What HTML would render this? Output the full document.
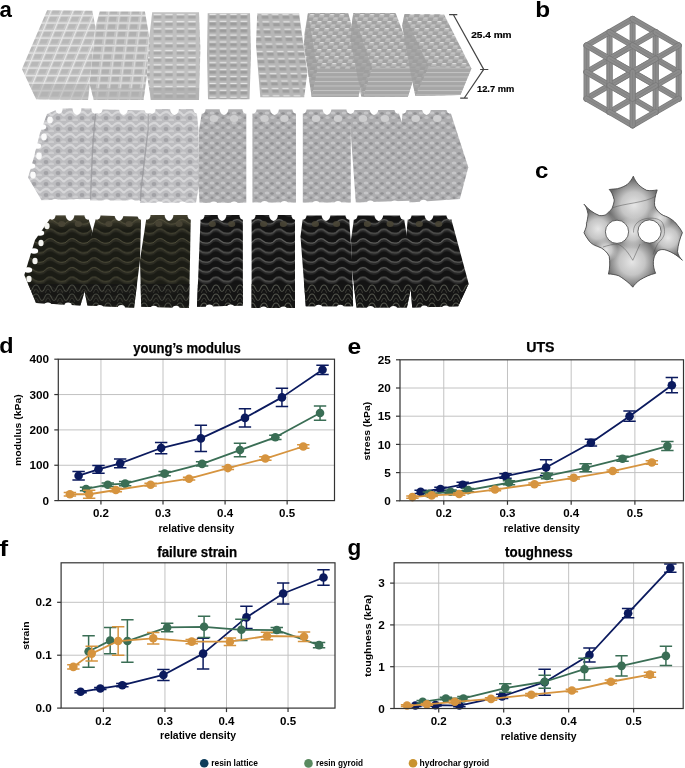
<!DOCTYPE html><html><head><meta charset="utf-8"><style>html,body{margin:0;padding:0;background:#fff;width:685px;height:768px;overflow:hidden}svg{display:block;font-family:"Liberation Sans",sans-serif;will-change:transform}</style></head><body><svg width="685" height="768" viewBox="0 0 685 768" font-family='"Liberation Sans", sans-serif'>
<rect width="685" height="768" fill="#fff"/>
<defs>
<pattern id="lat" width="10.4" height="6.9" patternUnits="userSpaceOnUse" x="208" y="13"><rect width="10.4" height="6.9" fill="#b6b6b6"/><rect x="1.4" y="2.1" width="6.6" height="3.4" fill="#9c9c9c"/><rect x="1.4" y="0.8" width="6.6" height="1.4" fill="#e6e6e6"/></pattern>
<pattern id="lat5" width="10.4" height="7.4" patternUnits="userSpaceOnUse" x="258" y="13" patternTransform="skewX(8)"><rect width="10.4" height="7.4" fill="#b6b6b6"/><rect x="1.4" y="2.2" width="6.6" height="3.6" fill="#9e9e9e"/><rect x="1.4" y="0.8" width="6.6" height="1.4" fill="#e2e2e2"/></pattern>
<pattern id="lat3" width="11.5" height="7.2" patternUnits="userSpaceOnUse" x="152" y="13"><rect width="11.5" height="7.2" fill="#c0c0c0"/><rect x="1.6" y="2.1" width="7.6" height="3.6" fill="#a8a8a8"/><rect x="1.6" y="0.8" width="7.6" height="1.4" fill="#e8e8e8"/></pattern>
<pattern id="lato" width="11" height="7.5" patternUnits="userSpaceOnUse" patternTransform="skewX(-22)"><rect width="11" height="7.5" fill="#c8c8c8"/><rect x="1.5" y="1.8" width="7.5" height="4.4" fill="#b8b8b8"/><rect x="0" y="0" width="11" height="1.3" fill="#e2e2e2"/><rect x="0" y="0" width="1.3" height="7.5" fill="#e8e8e8"/></pattern>
<pattern id="lato2" width="11" height="7.5" patternUnits="userSpaceOnUse" patternTransform="skewX(-8)"><rect width="11" height="7.5" fill="#c4c4c4"/><rect x="1.5" y="1.8" width="7.5" height="4.4" fill="#b0b0b0"/><rect x="0" y="0" width="11" height="1.3" fill="#e2e2e2"/><rect x="0" y="0" width="1.2" height="7.5" fill="#dadada"/></pattern>
<pattern id="chk" width="10" height="7" patternUnits="userSpaceOnUse" patternTransform="skewX(-20)"><rect width="10" height="7" fill="#b8b8b8"/><rect x="0" y="0" width="5" height="3.5" fill="#a2a2a2"/><rect x="5" y="3.5" width="5" height="3.5" fill="#a2a2a2"/><rect x="5.5" y="0" width="3.5" height="1.1" fill="#e0e0e0"/><rect x="0.5" y="3.5" width="3.5" height="1.0" fill="#d4d4d4"/></pattern>
<pattern id="band" width="8" height="4.5" patternUnits="userSpaceOnUse"><rect width="8" height="4.5" fill="#a6a6a6"/><rect y="0" width="8" height="1.0" fill="#c4c4c4"/></pattern>
<pattern id="gyw" width="12" height="11" patternUnits="userSpaceOnUse" x="30" y="110"><rect width="12" height="11" fill="#bdbdc0"/><path d="M0,2.5 C3,0 6,0 8,2.5 C9.5,4.5 10.5,4.5 12,2.5 L12,5 C10.5,7 9,7 7.5,5 C5.5,2.5 3,3 0,5 Z" fill="#d6d6d8"/><ellipse cx="4" cy="8" rx="2.4" ry="1.9" fill="#a2a2a6"/><path d="M6.5,10 C8,8 10,8 12,9.5 L12,11 L6.5,11 Z" fill="#cdcdcf"/></pattern>
<pattern id="gyg" width="11" height="10" patternUnits="userSpaceOnUse"><rect width="11" height="10" fill="#adadaf"/><ellipse cx="3" cy="3" rx="2.4" ry="1.6" fill="#c6c6c8"/><ellipse cx="8.5" cy="7.5" rx="2.2" ry="1.5" fill="#c4c4c6"/><ellipse cx="8" cy="3.5" rx="1.8" ry="1.3" fill="#8f8f92"/><ellipse cx="3" cy="7.8" rx="1.6" ry="1.2" fill="#919194"/></pattern>
<pattern id="gyd" width="21" height="9.6" patternUnits="userSpaceOnUse" y="217"><rect width="21" height="9.6" fill="#131313"/><path d="M0,6 C4,1.5 7,1.5 10.5,4.5 C14,7.5 17,7.5 21,6 L21,8.6 C17,10 14,10 10.5,7.2 C7,4.4 4,4.4 0,8.6 Z" fill="#2a2a2a"/><path d="M0,6 C4,1.5 7,1.5 10.5,4.5 C14,7.5 17,7.5 21,6" stroke="#5e5e5c" stroke-width="1.2" fill="none"/></pattern>
<pattern id="gydo" width="22" height="9.6" patternUnits="userSpaceOnUse" y="217"><rect width="22" height="9.6" fill="#1b1c15"/><path d="M0,6 C4,1.5 7,1.5 11,4.5 C15,7.5 18,7.5 22,6 L22,8.6 C18,10 15,10 11,7.2 C7,4.4 4,4.4 0,8.6 Z" fill="#2b2b22"/><path d="M0,6 C4,1.5 7,1.5 11,4.5 C15,7.5 18,7.5 22,6" stroke="#56543f" stroke-width="0.9" fill="none"/></pattern>
<linearGradient id="olv" x1="0" x2="0" y1="0" y2="1"><stop offset="0" stop-color="#6a6448" stop-opacity="0.9"/><stop offset="1" stop-color="#6a6448" stop-opacity="0"/></linearGradient>
<pattern id="gyds" width="12" height="9" patternUnits="userSpaceOnUse" x="0" y="284"><rect width="12" height="9" fill="#141414"/><path d="M0,1 C4,1 3,7.5 6,7.5 C9,7.5 8,1 12,1" stroke="#50524a" stroke-width="1.1" fill="none"/><path d="M0,5 C2,5 2,9 3,9 M9,9 C10,9 10,5 12,5" stroke="#3c3d37" stroke-width="0.9" fill="none"/></pattern>
<linearGradient id="shadeL" x1="0" x2="1" y1="0" y2="0"><stop offset="0" stop-color="#000" stop-opacity="0.12"/><stop offset="0.25" stop-color="#000" stop-opacity="0"/></linearGradient>
</defs>
<polygon points="47.1,10.3 92.4,10.8 95.3,26.9 92.0,60.0 89.5,83.8 88.0,99.9 36.2,99.2 21.9,68.9" fill="url(#lato)"/>
<polygon points="99.7,11.4 144.9,11.4 149.3,37.1 147.0,75.0 143.5,99.9 93.8,99.9 89.5,83.8 92.0,60.0 95.3,26.9" fill="url(#lato2)"/>
<polygon points="152.2,12.3 199.0,12.3 200.4,48.8 199.0,99.9 150.8,99.9 147.0,75.0 149.3,37.1" fill="url(#lat3)"/>
<polygon points="207.7,13.2 250.0,13.2 251.0,55.0 249.5,99.2 208.0,99.2 207.0,55.0" fill="url(#lat)"/>
<polygon points="257.2,13.6 299.1,13.6 307.3,72.4 304.2,97.3 260.3,97.3 256.0,45.0" fill="url(#lat5)"/>
<polygon points="308.0,13.1 348.2,13.1 364.2,69.3 358.4,97.0 311.7,97.0 303.6,44.5" fill="url(#chk)"/>
<polygon points="353.3,13.1 395.6,13.1 416.6,68.3 407.9,96.8 361.3,96.8 358.0,80.0 350.5,40.0 351.8,24.0" fill="url(#chk)"/>
<polygon points="404.5,14.0 444.0,14.2 471.4,68.6 460.4,94.9 415.4,95.9 410.0,70.0 402.2,25.4" fill="url(#chk)"/>
<polygon points="29,84 90,84 88,99.9 36.2,99.2" fill="#b0b0b0" opacity="0.55"/>
<polygon points="91,88 145,88 143.5,99.9 93.8,99.9" fill="#b0b0b0" opacity="0.55"/>
<polygon points="150,88 199,88 199,99.9 150.8,99.9" fill="#aaaaaa" opacity="0.55"/>
<polygon points="317.4,68.4 364.2,69.3 358.4,97 311.7,97" fill="url(#band)"/>
<polygon points="372,67.5 416.6,68.3 407.9,96.8 363.3,96.8" fill="url(#band)"/>
<polygon points="428.6,66.7 471.4,68.6 460.4,94.9 415.4,95.9" fill="url(#band)"/>
<polygon points="308,13.1 317.4,68.4 311.7,97 307,60.6 304.3,34.3" fill="#9c9c9c" opacity="0.7"/>
<polygon points="353.3,13.1 372,67.5 363.3,96.8 358,80 350.5,40 351.8,24" fill="#9c9c9c" opacity="0.7"/>
<polygon points="404.5,14 428.6,66.7 415.4,95.9 410,70 402.2,25.4" fill="#9c9c9c" opacity="0.7"/>
<polygon points="59.4,108.6 94.5,108.6 95.0,130.0 92.0,170.0 90.2,199.0 41.5,200.3 28.0,177.4 34.0,157.0 40.0,133.0 47.0,114.0" fill="url(#gyw)"/>
<polygon points="95.0,109.3 148.1,110.5 147.0,150.0 145.8,200.4 90.0,200.4 92.0,150.0" fill="url(#gyw)"/>
<polygon points="149.5,108.9 196.5,108.9 198.5,130.0 199.0,185.0 196.0,202.8 140.0,202.8 141.0,190.0 148.0,130.0" fill="url(#gyw)"/>
<polygon points="202.5,109.3 246.3,109.3 246.3,202.8 199.5,202.8 198.5,185.0 199.0,130.0" fill="url(#gyg)"/>
<polygon points="252.4,109.4 296.0,109.4 296.0,202.4 252.4,202.4" fill="url(#gyg)"/>
<polygon points="302.8,109.4 350.8,109.4 350.8,202.4 302.8,202.4" fill="url(#gyg)"/>
<polygon points="349.1,110.0 397.8,110.0 402.8,125.0 409.5,200.7 355.8,202.4" fill="url(#gyg)"/>
<polygon points="402.8,110.0 449.8,110.0 468.3,167.2 459.9,199.0 409.5,202.4 401.1,130.0" fill="url(#gyg)"/>
<path d="M95.5,112 L92.5,150 L90.5,199 M148.5,112 L148,130 L141,190 L140.5,201" stroke="#9a9a9e" stroke-width="1.4" fill="none" opacity="0.8"/>
<ellipse cx="213.9" cy="118.5" rx="4.2" ry="3.6" fill="#d2d2d4" opacity="0.85"/>
<ellipse cx="234.1" cy="118.5" rx="4.2" ry="3.6" fill="#d2d2d4" opacity="0.85"/>
<ellipse cx="264.6" cy="118.5" rx="4.2" ry="3.6" fill="#d2d2d4" opacity="0.85"/>
<ellipse cx="284.4" cy="118.5" rx="4.2" ry="3.6" fill="#d2d2d4" opacity="0.85"/>
<ellipse cx="316.0" cy="118.5" rx="4.2" ry="3.6" fill="#d2d2d4" opacity="0.85"/>
<ellipse cx="338.0" cy="118.5" rx="4.2" ry="3.6" fill="#d2d2d4" opacity="0.85"/>
<ellipse cx="363.0" cy="118.5" rx="4.2" ry="3.6" fill="#d2d2d4" opacity="0.85"/>
<ellipse cx="385.0" cy="118.5" rx="4.2" ry="3.6" fill="#d2d2d4" opacity="0.85"/>
<ellipse cx="415.7" cy="118.5" rx="4.2" ry="3.6" fill="#d2d2d4" opacity="0.85"/>
<ellipse cx="437.3" cy="118.5" rx="4.2" ry="3.6" fill="#d2d2d4" opacity="0.85"/>
<ellipse cx="59.0" cy="108.7" rx="3.6" ry="5.0" fill="#fff"/>
<ellipse cx="77.0" cy="108.7" rx="4.4" ry="6.2" fill="#fff"/>
<ellipse cx="95.0" cy="108.7" rx="3.6" ry="5.0" fill="#fff"/>
<ellipse cx="99.0" cy="108.7" rx="3.6" ry="5.0" fill="#fff"/>
<ellipse cx="123.5" cy="108.7" rx="4.4" ry="6.2" fill="#fff"/>
<ellipse cx="148.0" cy="108.7" rx="3.6" ry="5.0" fill="#fff"/>
<ellipse cx="152.0" cy="108.7" rx="3.6" ry="5.0" fill="#fff"/>
<ellipse cx="174.5" cy="108.7" rx="4.4" ry="6.2" fill="#fff"/>
<ellipse cx="197.0" cy="108.7" rx="3.6" ry="5.0" fill="#fff"/>
<ellipse cx="202.0" cy="108.7" rx="3.6" ry="5.0" fill="#fff"/>
<ellipse cx="224.0" cy="108.7" rx="4.4" ry="6.2" fill="#fff"/>
<ellipse cx="246.0" cy="108.7" rx="3.6" ry="5.0" fill="#fff"/>
<ellipse cx="253.0" cy="108.7" rx="3.6" ry="5.0" fill="#fff"/>
<ellipse cx="274.5" cy="108.7" rx="4.4" ry="6.2" fill="#fff"/>
<ellipse cx="296.0" cy="108.7" rx="3.6" ry="5.0" fill="#fff"/>
<ellipse cx="303.0" cy="108.7" rx="3.6" ry="5.0" fill="#fff"/>
<ellipse cx="327.0" cy="108.7" rx="4.4" ry="6.2" fill="#fff"/>
<ellipse cx="351.0" cy="108.7" rx="3.6" ry="5.0" fill="#fff"/>
<ellipse cx="350.0" cy="108.7" rx="3.6" ry="5.0" fill="#fff"/>
<ellipse cx="374.0" cy="108.7" rx="4.4" ry="6.2" fill="#fff"/>
<ellipse cx="398.0" cy="108.7" rx="3.6" ry="5.0" fill="#fff"/>
<ellipse cx="403.0" cy="108.7" rx="3.6" ry="5.0" fill="#fff"/>
<ellipse cx="426.5" cy="108.7" rx="4.4" ry="6.2" fill="#fff"/>
<ellipse cx="450.0" cy="108.7" rx="3.6" ry="5.0" fill="#fff"/>
<ellipse cx="55.0" cy="201.6" rx="3.6" ry="2.6" fill="#fff"/>
<ellipse cx="77.0" cy="201.6" rx="3.6" ry="2.6" fill="#fff"/>
<ellipse cx="106.6" cy="202.2" rx="3.6" ry="2.6" fill="#fff"/>
<ellipse cx="131.4" cy="202.2" rx="3.6" ry="2.6" fill="#fff"/>
<ellipse cx="159.5" cy="204.1" rx="3.6" ry="2.6" fill="#fff"/>
<ellipse cx="182.5" cy="204.1" rx="3.6" ry="2.6" fill="#fff"/>
<ellipse cx="213.9" cy="204.1" rx="3.6" ry="2.6" fill="#fff"/>
<ellipse cx="234.1" cy="204.1" rx="3.6" ry="2.6" fill="#fff"/>
<ellipse cx="264.6" cy="203.7" rx="3.6" ry="2.6" fill="#fff"/>
<ellipse cx="284.4" cy="203.7" rx="3.6" ry="2.6" fill="#fff"/>
<ellipse cx="316.0" cy="203.7" rx="3.6" ry="2.6" fill="#fff"/>
<ellipse cx="338.0" cy="203.7" rx="3.6" ry="2.6" fill="#fff"/>
<ellipse cx="370.3" cy="203.2" rx="3.6" ry="2.6" fill="#fff"/>
<ellipse cx="394.7" cy="203.2" rx="3.6" ry="2.6" fill="#fff"/>
<ellipse cx="423.5" cy="202.4" rx="3.6" ry="2.6" fill="#fff"/>
<ellipse cx="446.5" cy="202.4" rx="3.6" ry="2.6" fill="#fff"/>
<ellipse cx="50" cy="120" rx="2.8" ry="3.4" fill="#fbfbfb"/>
<ellipse cx="44" cy="137" rx="2.8" ry="3.4" fill="#fbfbfb"/>
<ellipse cx="39" cy="156" rx="2.8" ry="3.4" fill="#fbfbfb"/>
<ellipse cx="33" cy="175" rx="2.8" ry="3.4" fill="#fbfbfb"/>
<ellipse cx="42" cy="127" rx="4.2" ry="2.8" fill="#fff"/>
<ellipse cx="37" cy="146" rx="4.2" ry="2.8" fill="#fff"/>
<ellipse cx="31" cy="166" rx="4.2" ry="2.8" fill="#fff"/>
<ellipse cx="30" cy="189" rx="4.2" ry="2.8" fill="#fff"/>
<polygon points="52.4,215.5 87.4,215.5 92.1,230.7 88.0,280.0 80.4,305.4 36.0,303.0 24.3,275.0 35.0,240.0" fill="url(#gydo)"/>
<clipPath id="h3c0"><polygon points="52.4,215.5 87.4,215.5 92.1,230.7 88.0,280.0 80.4,305.4 36.0,303.0 24.3,275.0 35.0,240.0"/></clipPath>
<rect x="0" y="284" width="480" height="30" fill="url(#gyds)" clip-path="url(#h3c0)" opacity="0.75"/>
<rect x="0" y="214" width="480" height="16" fill="url(#olv)" clip-path="url(#h3c0)" opacity="0.6"/>
<polygon points="96.8,215.5 141.1,216.7 140.0,260.0 134.1,307.8 87.4,305.4 82.7,282.0 90.0,240.0" fill="url(#gydo)"/>
<clipPath id="h3c1"><polygon points="96.8,215.5 141.1,216.7 140.0,260.0 134.1,307.8 87.4,305.4 82.7,282.0 90.0,240.0"/></clipPath>
<rect x="0" y="284" width="480" height="30" fill="url(#gyds)" clip-path="url(#h3c1)" opacity="0.75"/>
<rect x="0" y="214" width="480" height="16" fill="url(#olv)" clip-path="url(#h3c1)" opacity="0.6"/>
<polygon points="146.9,214.9 190.8,214.9 190.0,260.0 189.0,308.0 141.2,306.8 140.0,260.0" fill="url(#gydo)"/>
<clipPath id="h3c2"><polygon points="146.9,214.9 190.8,214.9 190.0,260.0 189.0,308.0 141.2,306.8 140.0,260.0"/></clipPath>
<rect x="0" y="284" width="480" height="30" fill="url(#gyds)" clip-path="url(#h3c2)" opacity="0.75"/>
<rect x="0" y="214" width="480" height="16" fill="url(#olv)" clip-path="url(#h3c2)" opacity="0.6"/>
<polygon points="200.7,214.9 242.9,214.9 242.9,305.5 197.0,306.8" fill="url(#gyd)"/>
<clipPath id="h3c3"><polygon points="200.7,214.9 242.9,214.9 242.9,305.5 197.0,306.8"/></clipPath>
<rect x="0" y="284" width="480" height="30" fill="url(#gyds)" clip-path="url(#h3c3)" opacity="1"/>
<polygon points="251.6,214.9 295.0,214.9 295.0,308.0 251.6,308.0" fill="url(#gyd)"/>
<clipPath id="h3c4"><polygon points="251.6,214.9 295.0,214.9 295.0,308.0 251.6,308.0"/></clipPath>
<rect x="0" y="284" width="480" height="30" fill="url(#gyds)" clip-path="url(#h3c4)" opacity="1"/>
<polygon points="303.1,215.5 349.0,215.5 352.0,260.0 353.1,306.2 305.8,306.2 300.5,236.5" fill="url(#gyd)"/>
<clipPath id="h3c5"><polygon points="303.1,215.5 349.0,215.5 352.0,260.0 353.1,306.2 305.8,306.2 300.5,236.5"/></clipPath>
<rect x="0" y="284" width="480" height="30" fill="url(#gyds)" clip-path="url(#h3c5)" opacity="1"/>
<polygon points="354.4,215.5 403.5,215.5 413.5,276.0 406.9,307.5 356.5,307.5 352.0,270.0 351.0,240.0" fill="url(#gyd)"/>
<clipPath id="h3c6"><polygon points="354.4,215.5 403.5,215.5 413.5,276.0 406.9,307.5 356.5,307.5 352.0,270.0 351.0,240.0"/></clipPath>
<rect x="0" y="284" width="480" height="30" fill="url(#gyds)" clip-path="url(#h3c6)" opacity="1"/>
<polygon points="408.0,215.5 450.3,215.5 468.7,283.8 458.2,306.2 412.2,307.5 410.0,280.0 406.0,240.0" fill="url(#gyd)"/>
<clipPath id="h3c7"><polygon points="408.0,215.5 450.3,215.5 468.7,283.8 458.2,306.2 412.2,307.5 410.0,280.0 406.0,240.0"/></clipPath>
<rect x="0" y="284" width="480" height="30" fill="url(#gyds)" clip-path="url(#h3c7)" opacity="1"/>
<ellipse cx="61.7" cy="224" rx="3.6" ry="3.0" fill="#4a4636" opacity="0.9"/>
<ellipse cx="78.3" cy="224" rx="3.6" ry="3.0" fill="#4a4636" opacity="0.9"/>
<ellipse cx="108.9" cy="224" rx="3.6" ry="3.0" fill="#4a4636" opacity="0.9"/>
<ellipse cx="129.1" cy="224" rx="3.6" ry="3.0" fill="#4a4636" opacity="0.9"/>
<ellipse cx="158.9" cy="224" rx="3.6" ry="3.0" fill="#4a4636" opacity="0.9"/>
<ellipse cx="179.1" cy="224" rx="3.6" ry="3.0" fill="#4a4636" opacity="0.9"/>
<ellipse cx="212.3" cy="224" rx="3.6" ry="3.0" fill="#4a4636" opacity="0.9"/>
<ellipse cx="231.7" cy="224" rx="3.6" ry="3.0" fill="#4a4636" opacity="0.9"/>
<ellipse cx="263.6" cy="224" rx="3.6" ry="3.0" fill="#4a4636" opacity="0.9"/>
<ellipse cx="283.4" cy="224" rx="3.6" ry="3.0" fill="#4a4636" opacity="0.9"/>
<ellipse cx="315.4" cy="224" rx="3.6" ry="3.0" fill="#4a4636" opacity="0.9"/>
<ellipse cx="336.6" cy="224" rx="3.6" ry="3.0" fill="#4a4636" opacity="0.9"/>
<ellipse cx="367.4" cy="224" rx="3.6" ry="3.0" fill="#4a4636" opacity="0.9"/>
<ellipse cx="390.1" cy="224" rx="3.6" ry="3.0" fill="#4a4636" opacity="0.9"/>
<ellipse cx="419.3" cy="224" rx="3.6" ry="3.0" fill="#4a4636" opacity="0.9"/>
<ellipse cx="438.7" cy="224" rx="3.6" ry="3.0" fill="#4a4636" opacity="0.9"/>
<ellipse cx="52.0" cy="214.7" rx="3.6" ry="5.0" fill="#fff"/>
<ellipse cx="70.0" cy="214.7" rx="4.4" ry="6.2" fill="#fff"/>
<ellipse cx="88.0" cy="214.7" rx="3.6" ry="5.0" fill="#fff"/>
<ellipse cx="97.0" cy="214.7" rx="3.6" ry="5.0" fill="#fff"/>
<ellipse cx="119.0" cy="214.7" rx="4.4" ry="6.2" fill="#fff"/>
<ellipse cx="141.0" cy="214.7" rx="3.6" ry="5.0" fill="#fff"/>
<ellipse cx="147.0" cy="214.7" rx="3.6" ry="5.0" fill="#fff"/>
<ellipse cx="169.0" cy="214.7" rx="4.4" ry="6.2" fill="#fff"/>
<ellipse cx="191.0" cy="214.7" rx="3.6" ry="5.0" fill="#fff"/>
<ellipse cx="201.0" cy="214.7" rx="3.6" ry="5.0" fill="#fff"/>
<ellipse cx="222.0" cy="214.7" rx="4.4" ry="6.2" fill="#fff"/>
<ellipse cx="243.0" cy="214.7" rx="3.6" ry="5.0" fill="#fff"/>
<ellipse cx="252.0" cy="214.7" rx="3.6" ry="5.0" fill="#fff"/>
<ellipse cx="273.5" cy="214.7" rx="4.4" ry="6.2" fill="#fff"/>
<ellipse cx="295.0" cy="214.7" rx="3.6" ry="5.0" fill="#fff"/>
<ellipse cx="303.0" cy="214.7" rx="3.6" ry="5.0" fill="#fff"/>
<ellipse cx="326.0" cy="214.7" rx="4.4" ry="6.2" fill="#fff"/>
<ellipse cx="349.0" cy="214.7" rx="3.6" ry="5.0" fill="#fff"/>
<ellipse cx="354.0" cy="214.7" rx="3.6" ry="5.0" fill="#fff"/>
<ellipse cx="378.8" cy="214.7" rx="4.4" ry="6.2" fill="#fff"/>
<ellipse cx="403.5" cy="214.7" rx="3.6" ry="5.0" fill="#fff"/>
<ellipse cx="408.0" cy="214.7" rx="3.6" ry="5.0" fill="#fff"/>
<ellipse cx="429.0" cy="214.7" rx="4.4" ry="6.2" fill="#fff"/>
<ellipse cx="450.0" cy="214.7" rx="3.6" ry="5.0" fill="#fff"/>
<ellipse cx="47.9" cy="305.2" rx="3.6" ry="2.6" fill="#fff"/>
<ellipse cx="68.1" cy="305.2" rx="3.6" ry="2.6" fill="#fff"/>
<ellipse cx="99.7" cy="307.6" rx="3.6" ry="2.6" fill="#fff"/>
<ellipse cx="121.3" cy="307.6" rx="3.6" ry="2.6" fill="#fff"/>
<ellipse cx="154.0" cy="308.4" rx="3.6" ry="2.6" fill="#fff"/>
<ellipse cx="176.0" cy="308.4" rx="3.6" ry="2.6" fill="#fff"/>
<ellipse cx="209.4" cy="307.1" rx="3.6" ry="2.6" fill="#fff"/>
<ellipse cx="230.6" cy="307.1" rx="3.6" ry="2.6" fill="#fff"/>
<ellipse cx="263.6" cy="309.1" rx="3.6" ry="2.6" fill="#fff"/>
<ellipse cx="283.4" cy="309.1" rx="3.6" ry="2.6" fill="#fff"/>
<ellipse cx="318.7" cy="307.3" rx="3.6" ry="2.6" fill="#fff"/>
<ellipse cx="340.3" cy="307.3" rx="3.6" ry="2.6" fill="#fff"/>
<ellipse cx="370.5" cy="308.6" rx="3.6" ry="2.6" fill="#fff"/>
<ellipse cx="393.5" cy="308.6" rx="3.6" ry="2.6" fill="#fff"/>
<ellipse cx="424.4" cy="308.1" rx="3.6" ry="2.6" fill="#fff"/>
<ellipse cx="445.6" cy="308.1" rx="3.6" ry="2.6" fill="#fff"/>
<ellipse cx="47" cy="226" rx="2.6" ry="3.2" fill="#f4f4f0"/>
<ellipse cx="41" cy="243" rx="2.6" ry="3.2" fill="#f4f4f0"/>
<ellipse cx="35" cy="261" rx="2.6" ry="3.2" fill="#f4f4f0"/>
<ellipse cx="29" cy="279" rx="2.6" ry="3.2" fill="#f4f4f0"/>
<ellipse cx="40" cy="233" rx="4.2" ry="2.8" fill="#fff"/>
<ellipse cx="34" cy="251" rx="4.2" ry="2.8" fill="#fff"/>
<ellipse cx="28" cy="270" rx="4.2" ry="2.8" fill="#fff"/>
<ellipse cx="27" cy="292" rx="4.2" ry="2.8" fill="#fff"/>
<g stroke="#444" stroke-width="1.2" fill="none">
<path d="M449.1,14.7 H457.3 M453.4,14.7 L483.7,69.4 M480.1,69.5 H488.3 M483.7,69.4 L464.3,98 M460.2,98.1 H467.8"/>
</g>
<text x="471.20" y="37.80" font-size="9.7" font-weight="bold" text-anchor="start" fill="#000" textLength="40.4" lengthAdjust="spacingAndGlyphs" stroke="#000" stroke-width="0.2">25.4 mm</text>
<text x="477.00" y="91.50" font-size="9.7" font-weight="bold" text-anchor="start" fill="#000" textLength="37.2" lengthAdjust="spacingAndGlyphs" stroke="#000" stroke-width="0.2">12.7 mm</text>
<g stroke-linecap="round">
<line x1="632.60" y1="72.10" x2="632.60" y2="45.50" stroke="#7a7a7a" stroke-width="6.0"/>
<line x1="632.60" y1="72.10" x2="632.60" y2="45.50" stroke="#8c8c8c" stroke-width="4.6"/>
<line x1="632.60" y1="72.10" x2="632.60" y2="45.50" stroke="#7c7c7c" stroke-width="0.6"/>
<line x1="632.60" y1="72.10" x2="655.64" y2="85.40" stroke="#7a7a7a" stroke-width="6.0"/>
<line x1="632.60" y1="72.10" x2="655.64" y2="85.40" stroke="#8c8c8c" stroke-width="4.6"/>
<line x1="632.60" y1="72.10" x2="655.64" y2="85.40" stroke="#7c7c7c" stroke-width="0.6"/>
<line x1="632.60" y1="72.10" x2="609.56" y2="85.40" stroke="#7a7a7a" stroke-width="6.0"/>
<line x1="632.60" y1="72.10" x2="609.56" y2="85.40" stroke="#8c8c8c" stroke-width="4.6"/>
<line x1="632.60" y1="72.10" x2="609.56" y2="85.40" stroke="#7c7c7c" stroke-width="0.6"/>
<line x1="632.60" y1="45.50" x2="632.60" y2="18.90" stroke="#7a7a7a" stroke-width="6.0"/>
<line x1="632.60" y1="45.50" x2="632.60" y2="18.90" stroke="#8c8c8c" stroke-width="4.6"/>
<line x1="632.60" y1="45.50" x2="632.60" y2="18.90" stroke="#7c7c7c" stroke-width="0.6"/>
<line x1="632.60" y1="45.50" x2="655.64" y2="58.80" stroke="#7a7a7a" stroke-width="6.0"/>
<line x1="632.60" y1="45.50" x2="655.64" y2="58.80" stroke="#8c8c8c" stroke-width="4.6"/>
<line x1="632.60" y1="45.50" x2="655.64" y2="58.80" stroke="#7c7c7c" stroke-width="0.6"/>
<line x1="632.60" y1="45.50" x2="609.56" y2="58.80" stroke="#7a7a7a" stroke-width="6.0"/>
<line x1="632.60" y1="45.50" x2="609.56" y2="58.80" stroke="#8c8c8c" stroke-width="4.6"/>
<line x1="632.60" y1="45.50" x2="609.56" y2="58.80" stroke="#7c7c7c" stroke-width="0.6"/>
<line x1="609.56" y1="85.40" x2="609.56" y2="58.80" stroke="#7a7a7a" stroke-width="6.0"/>
<line x1="609.56" y1="85.40" x2="609.56" y2="58.80" stroke="#8c8c8c" stroke-width="4.6"/>
<line x1="609.56" y1="85.40" x2="609.56" y2="58.80" stroke="#7c7c7c" stroke-width="0.6"/>
<line x1="655.64" y1="85.40" x2="655.64" y2="58.80" stroke="#7a7a7a" stroke-width="6.0"/>
<line x1="655.64" y1="85.40" x2="655.64" y2="58.80" stroke="#8c8c8c" stroke-width="4.6"/>
<line x1="655.64" y1="85.40" x2="655.64" y2="58.80" stroke="#7c7c7c" stroke-width="0.6"/>
<line x1="609.56" y1="85.40" x2="586.53" y2="98.70" stroke="#7a7a7a" stroke-width="6.0"/>
<line x1="609.56" y1="85.40" x2="586.53" y2="98.70" stroke="#8c8c8c" stroke-width="4.6"/>
<line x1="609.56" y1="85.40" x2="586.53" y2="98.70" stroke="#7c7c7c" stroke-width="0.6"/>
<line x1="609.56" y1="85.40" x2="632.60" y2="98.70" stroke="#7a7a7a" stroke-width="6.0"/>
<line x1="609.56" y1="85.40" x2="632.60" y2="98.70" stroke="#8c8c8c" stroke-width="4.6"/>
<line x1="609.56" y1="85.40" x2="632.60" y2="98.70" stroke="#7c7c7c" stroke-width="0.6"/>
<line x1="655.64" y1="85.40" x2="678.67" y2="98.70" stroke="#7a7a7a" stroke-width="6.0"/>
<line x1="655.64" y1="85.40" x2="678.67" y2="98.70" stroke="#8c8c8c" stroke-width="4.6"/>
<line x1="655.64" y1="85.40" x2="678.67" y2="98.70" stroke="#7c7c7c" stroke-width="0.6"/>
<line x1="655.64" y1="85.40" x2="632.60" y2="98.70" stroke="#7a7a7a" stroke-width="6.0"/>
<line x1="655.64" y1="85.40" x2="632.60" y2="98.70" stroke="#8c8c8c" stroke-width="4.6"/>
<line x1="655.64" y1="85.40" x2="632.60" y2="98.70" stroke="#7c7c7c" stroke-width="0.6"/>
<line x1="632.60" y1="18.90" x2="609.56" y2="32.20" stroke="#7a7a7a" stroke-width="6.0"/>
<line x1="632.60" y1="18.90" x2="609.56" y2="32.20" stroke="#8c8c8c" stroke-width="4.6"/>
<line x1="632.60" y1="18.90" x2="609.56" y2="32.20" stroke="#7c7c7c" stroke-width="0.6"/>
<line x1="632.60" y1="18.90" x2="655.64" y2="32.20" stroke="#7a7a7a" stroke-width="6.0"/>
<line x1="632.60" y1="18.90" x2="655.64" y2="32.20" stroke="#8c8c8c" stroke-width="4.6"/>
<line x1="632.60" y1="18.90" x2="655.64" y2="32.20" stroke="#7c7c7c" stroke-width="0.6"/>
<line x1="609.56" y1="58.80" x2="609.56" y2="32.20" stroke="#7a7a7a" stroke-width="6.0"/>
<line x1="609.56" y1="58.80" x2="609.56" y2="32.20" stroke="#8c8c8c" stroke-width="4.6"/>
<line x1="609.56" y1="58.80" x2="609.56" y2="32.20" stroke="#7c7c7c" stroke-width="0.6"/>
<line x1="655.64" y1="58.80" x2="655.64" y2="32.20" stroke="#7a7a7a" stroke-width="6.0"/>
<line x1="655.64" y1="58.80" x2="655.64" y2="32.20" stroke="#8c8c8c" stroke-width="4.6"/>
<line x1="655.64" y1="58.80" x2="655.64" y2="32.20" stroke="#7c7c7c" stroke-width="0.6"/>
<line x1="609.56" y1="58.80" x2="586.53" y2="72.10" stroke="#7a7a7a" stroke-width="6.0"/>
<line x1="609.56" y1="58.80" x2="586.53" y2="72.10" stroke="#8c8c8c" stroke-width="4.6"/>
<line x1="609.56" y1="58.80" x2="586.53" y2="72.10" stroke="#7c7c7c" stroke-width="0.6"/>
<line x1="609.56" y1="58.80" x2="632.60" y2="72.10" stroke="#7a7a7a" stroke-width="6.0"/>
<line x1="609.56" y1="58.80" x2="632.60" y2="72.10" stroke="#8c8c8c" stroke-width="4.6"/>
<line x1="609.56" y1="58.80" x2="632.60" y2="72.10" stroke="#7c7c7c" stroke-width="0.6"/>
<line x1="655.64" y1="58.80" x2="632.60" y2="72.10" stroke="#7a7a7a" stroke-width="6.0"/>
<line x1="655.64" y1="58.80" x2="632.60" y2="72.10" stroke="#8c8c8c" stroke-width="4.6"/>
<line x1="655.64" y1="58.80" x2="632.60" y2="72.10" stroke="#7c7c7c" stroke-width="0.6"/>
<line x1="655.64" y1="58.80" x2="678.67" y2="72.10" stroke="#7a7a7a" stroke-width="6.0"/>
<line x1="655.64" y1="58.80" x2="678.67" y2="72.10" stroke="#8c8c8c" stroke-width="4.6"/>
<line x1="655.64" y1="58.80" x2="678.67" y2="72.10" stroke="#7c7c7c" stroke-width="0.6"/>
<line x1="586.53" y1="98.70" x2="586.53" y2="72.10" stroke="#7a7a7a" stroke-width="6.0"/>
<line x1="586.53" y1="98.70" x2="586.53" y2="72.10" stroke="#8c8c8c" stroke-width="4.6"/>
<line x1="586.53" y1="98.70" x2="586.53" y2="72.10" stroke="#7c7c7c" stroke-width="0.6"/>
<line x1="632.60" y1="98.70" x2="632.60" y2="72.10" stroke="#7a7a7a" stroke-width="6.0"/>
<line x1="632.60" y1="98.70" x2="632.60" y2="72.10" stroke="#8c8c8c" stroke-width="4.6"/>
<line x1="632.60" y1="98.70" x2="632.60" y2="72.10" stroke="#7c7c7c" stroke-width="0.6"/>
<line x1="678.67" y1="98.70" x2="678.67" y2="72.10" stroke="#7a7a7a" stroke-width="6.0"/>
<line x1="678.67" y1="98.70" x2="678.67" y2="72.10" stroke="#8c8c8c" stroke-width="4.6"/>
<line x1="678.67" y1="98.70" x2="678.67" y2="72.10" stroke="#7c7c7c" stroke-width="0.6"/>
<line x1="586.53" y1="98.70" x2="609.56" y2="112.00" stroke="#7a7a7a" stroke-width="6.0"/>
<line x1="586.53" y1="98.70" x2="609.56" y2="112.00" stroke="#8c8c8c" stroke-width="4.6"/>
<line x1="586.53" y1="98.70" x2="609.56" y2="112.00" stroke="#7c7c7c" stroke-width="0.6"/>
<line x1="632.60" y1="98.70" x2="609.56" y2="112.00" stroke="#7a7a7a" stroke-width="6.0"/>
<line x1="632.60" y1="98.70" x2="609.56" y2="112.00" stroke="#8c8c8c" stroke-width="4.6"/>
<line x1="632.60" y1="98.70" x2="609.56" y2="112.00" stroke="#7c7c7c" stroke-width="0.6"/>
<line x1="632.60" y1="98.70" x2="655.64" y2="112.00" stroke="#7a7a7a" stroke-width="6.0"/>
<line x1="632.60" y1="98.70" x2="655.64" y2="112.00" stroke="#8c8c8c" stroke-width="4.6"/>
<line x1="632.60" y1="98.70" x2="655.64" y2="112.00" stroke="#7c7c7c" stroke-width="0.6"/>
<line x1="678.67" y1="98.70" x2="655.64" y2="112.00" stroke="#7a7a7a" stroke-width="6.0"/>
<line x1="678.67" y1="98.70" x2="655.64" y2="112.00" stroke="#8c8c8c" stroke-width="4.6"/>
<line x1="678.67" y1="98.70" x2="655.64" y2="112.00" stroke="#7c7c7c" stroke-width="0.6"/>
<line x1="609.56" y1="32.20" x2="586.53" y2="45.50" stroke="#7a7a7a" stroke-width="6.0"/>
<line x1="609.56" y1="32.20" x2="586.53" y2="45.50" stroke="#8c8c8c" stroke-width="4.6"/>
<line x1="609.56" y1="32.20" x2="586.53" y2="45.50" stroke="#7c7c7c" stroke-width="0.6"/>
<line x1="609.56" y1="32.20" x2="632.60" y2="45.50" stroke="#7a7a7a" stroke-width="6.0"/>
<line x1="609.56" y1="32.20" x2="632.60" y2="45.50" stroke="#8c8c8c" stroke-width="4.6"/>
<line x1="609.56" y1="32.20" x2="632.60" y2="45.50" stroke="#7c7c7c" stroke-width="0.6"/>
<line x1="655.64" y1="32.20" x2="632.60" y2="45.50" stroke="#7a7a7a" stroke-width="6.0"/>
<line x1="655.64" y1="32.20" x2="632.60" y2="45.50" stroke="#8c8c8c" stroke-width="4.6"/>
<line x1="655.64" y1="32.20" x2="632.60" y2="45.50" stroke="#7c7c7c" stroke-width="0.6"/>
<line x1="655.64" y1="32.20" x2="678.67" y2="45.50" stroke="#7a7a7a" stroke-width="6.0"/>
<line x1="655.64" y1="32.20" x2="678.67" y2="45.50" stroke="#8c8c8c" stroke-width="4.6"/>
<line x1="655.64" y1="32.20" x2="678.67" y2="45.50" stroke="#7c7c7c" stroke-width="0.6"/>
<line x1="586.53" y1="72.10" x2="586.53" y2="45.50" stroke="#7a7a7a" stroke-width="6.0"/>
<line x1="586.53" y1="72.10" x2="586.53" y2="45.50" stroke="#8c8c8c" stroke-width="4.6"/>
<line x1="586.53" y1="72.10" x2="586.53" y2="45.50" stroke="#7c7c7c" stroke-width="0.6"/>
<line x1="632.60" y1="72.10" x2="632.60" y2="45.50" stroke="#7a7a7a" stroke-width="6.0"/>
<line x1="632.60" y1="72.10" x2="632.60" y2="45.50" stroke="#8c8c8c" stroke-width="4.6"/>
<line x1="632.60" y1="72.10" x2="632.60" y2="45.50" stroke="#7c7c7c" stroke-width="0.6"/>
<line x1="678.67" y1="72.10" x2="678.67" y2="45.50" stroke="#7a7a7a" stroke-width="6.0"/>
<line x1="678.67" y1="72.10" x2="678.67" y2="45.50" stroke="#8c8c8c" stroke-width="4.6"/>
<line x1="678.67" y1="72.10" x2="678.67" y2="45.50" stroke="#7c7c7c" stroke-width="0.6"/>
<line x1="586.53" y1="72.10" x2="609.56" y2="85.40" stroke="#7a7a7a" stroke-width="6.0"/>
<line x1="586.53" y1="72.10" x2="609.56" y2="85.40" stroke="#8c8c8c" stroke-width="4.6"/>
<line x1="586.53" y1="72.10" x2="609.56" y2="85.40" stroke="#7c7c7c" stroke-width="0.6"/>
<line x1="632.60" y1="72.10" x2="609.56" y2="85.40" stroke="#7a7a7a" stroke-width="6.0"/>
<line x1="632.60" y1="72.10" x2="609.56" y2="85.40" stroke="#8c8c8c" stroke-width="4.6"/>
<line x1="632.60" y1="72.10" x2="609.56" y2="85.40" stroke="#7c7c7c" stroke-width="0.6"/>
<line x1="632.60" y1="72.10" x2="655.64" y2="85.40" stroke="#7a7a7a" stroke-width="6.0"/>
<line x1="632.60" y1="72.10" x2="655.64" y2="85.40" stroke="#8c8c8c" stroke-width="4.6"/>
<line x1="632.60" y1="72.10" x2="655.64" y2="85.40" stroke="#7c7c7c" stroke-width="0.6"/>
<line x1="678.67" y1="72.10" x2="655.64" y2="85.40" stroke="#7a7a7a" stroke-width="6.0"/>
<line x1="678.67" y1="72.10" x2="655.64" y2="85.40" stroke="#8c8c8c" stroke-width="4.6"/>
<line x1="678.67" y1="72.10" x2="655.64" y2="85.40" stroke="#7c7c7c" stroke-width="0.6"/>
<line x1="609.56" y1="112.00" x2="609.56" y2="85.40" stroke="#7a7a7a" stroke-width="6.0"/>
<line x1="609.56" y1="112.00" x2="609.56" y2="85.40" stroke="#8c8c8c" stroke-width="4.6"/>
<line x1="609.56" y1="112.00" x2="609.56" y2="85.40" stroke="#7c7c7c" stroke-width="0.6"/>
<line x1="655.64" y1="112.00" x2="655.64" y2="85.40" stroke="#7a7a7a" stroke-width="6.0"/>
<line x1="655.64" y1="112.00" x2="655.64" y2="85.40" stroke="#8c8c8c" stroke-width="4.6"/>
<line x1="655.64" y1="112.00" x2="655.64" y2="85.40" stroke="#7c7c7c" stroke-width="0.6"/>
<line x1="609.56" y1="112.00" x2="632.60" y2="125.30" stroke="#7a7a7a" stroke-width="6.0"/>
<line x1="609.56" y1="112.00" x2="632.60" y2="125.30" stroke="#8c8c8c" stroke-width="4.6"/>
<line x1="609.56" y1="112.00" x2="632.60" y2="125.30" stroke="#7c7c7c" stroke-width="0.6"/>
<line x1="655.64" y1="112.00" x2="632.60" y2="125.30" stroke="#7a7a7a" stroke-width="6.0"/>
<line x1="655.64" y1="112.00" x2="632.60" y2="125.30" stroke="#8c8c8c" stroke-width="4.6"/>
<line x1="655.64" y1="112.00" x2="632.60" y2="125.30" stroke="#7c7c7c" stroke-width="0.6"/>
<line x1="632.60" y1="45.50" x2="609.56" y2="58.80" stroke="#7a7a7a" stroke-width="6.0"/>
<line x1="632.60" y1="45.50" x2="609.56" y2="58.80" stroke="#8c8c8c" stroke-width="4.6"/>
<line x1="632.60" y1="45.50" x2="609.56" y2="58.80" stroke="#7c7c7c" stroke-width="0.6"/>
<line x1="586.53" y1="45.50" x2="609.56" y2="58.80" stroke="#7a7a7a" stroke-width="6.0"/>
<line x1="586.53" y1="45.50" x2="609.56" y2="58.80" stroke="#8c8c8c" stroke-width="4.6"/>
<line x1="586.53" y1="45.50" x2="609.56" y2="58.80" stroke="#7c7c7c" stroke-width="0.6"/>
<line x1="632.60" y1="45.50" x2="655.64" y2="58.80" stroke="#7a7a7a" stroke-width="6.0"/>
<line x1="632.60" y1="45.50" x2="655.64" y2="58.80" stroke="#8c8c8c" stroke-width="4.6"/>
<line x1="632.60" y1="45.50" x2="655.64" y2="58.80" stroke="#7c7c7c" stroke-width="0.6"/>
<line x1="678.67" y1="45.50" x2="655.64" y2="58.80" stroke="#7a7a7a" stroke-width="6.0"/>
<line x1="678.67" y1="45.50" x2="655.64" y2="58.80" stroke="#8c8c8c" stroke-width="4.6"/>
<line x1="678.67" y1="45.50" x2="655.64" y2="58.80" stroke="#7c7c7c" stroke-width="0.6"/>
<line x1="609.56" y1="85.40" x2="609.56" y2="58.80" stroke="#7a7a7a" stroke-width="6.0"/>
<line x1="609.56" y1="85.40" x2="609.56" y2="58.80" stroke="#8c8c8c" stroke-width="4.6"/>
<line x1="609.56" y1="85.40" x2="609.56" y2="58.80" stroke="#7c7c7c" stroke-width="0.6"/>
<line x1="655.64" y1="85.40" x2="655.64" y2="58.80" stroke="#7a7a7a" stroke-width="6.0"/>
<line x1="655.64" y1="85.40" x2="655.64" y2="58.80" stroke="#8c8c8c" stroke-width="4.6"/>
<line x1="655.64" y1="85.40" x2="655.64" y2="58.80" stroke="#7c7c7c" stroke-width="0.6"/>
<line x1="609.56" y1="85.40" x2="632.60" y2="98.70" stroke="#7a7a7a" stroke-width="6.0"/>
<line x1="609.56" y1="85.40" x2="632.60" y2="98.70" stroke="#8c8c8c" stroke-width="4.6"/>
<line x1="609.56" y1="85.40" x2="632.60" y2="98.70" stroke="#7c7c7c" stroke-width="0.6"/>
<line x1="655.64" y1="85.40" x2="632.60" y2="98.70" stroke="#7a7a7a" stroke-width="6.0"/>
<line x1="655.64" y1="85.40" x2="632.60" y2="98.70" stroke="#8c8c8c" stroke-width="4.6"/>
<line x1="655.64" y1="85.40" x2="632.60" y2="98.70" stroke="#7c7c7c" stroke-width="0.6"/>
<line x1="632.60" y1="125.30" x2="632.60" y2="98.70" stroke="#7a7a7a" stroke-width="6.0"/>
<line x1="632.60" y1="125.30" x2="632.60" y2="98.70" stroke="#8c8c8c" stroke-width="4.6"/>
<line x1="632.60" y1="125.30" x2="632.60" y2="98.70" stroke="#7c7c7c" stroke-width="0.6"/>
<line x1="609.56" y1="58.80" x2="632.60" y2="72.10" stroke="#7a7a7a" stroke-width="6.0"/>
<line x1="609.56" y1="58.80" x2="632.60" y2="72.10" stroke="#8c8c8c" stroke-width="4.6"/>
<line x1="609.56" y1="58.80" x2="632.60" y2="72.10" stroke="#7c7c7c" stroke-width="0.6"/>
<line x1="655.64" y1="58.80" x2="632.60" y2="72.10" stroke="#7a7a7a" stroke-width="6.0"/>
<line x1="655.64" y1="58.80" x2="632.60" y2="72.10" stroke="#8c8c8c" stroke-width="4.6"/>
<line x1="655.64" y1="58.80" x2="632.60" y2="72.10" stroke="#7c7c7c" stroke-width="0.6"/>
<line x1="632.60" y1="98.70" x2="632.60" y2="72.10" stroke="#7a7a7a" stroke-width="6.0"/>
<line x1="632.60" y1="98.70" x2="632.60" y2="72.10" stroke="#8c8c8c" stroke-width="4.6"/>
<line x1="632.60" y1="98.70" x2="632.60" y2="72.10" stroke="#7c7c7c" stroke-width="0.6"/>
</g>
<defs><clipPath id="gyclip"><path d="M633.3,176.2 C636,183 640,187 646.6,190.3 C650,191 654,190.5 657.2,189.9 C655,196 654,202 654.7,205.8 C656,210 660,214 663.7,215.6 C668,217 674,220 677.5,225.3 C680,228 681,230 682.4,232.7 C680,238 678,245 677.5,251.4 C678,255 680,258 682.4,260.3 C677,255 670,251 664.5,249.7 C660,249 657,251 656.4,253 C653,257 652,265 655.6,273.3 C650,274.5 645,277 640.1,279.8 C637,282 634,285 632.8,287.2 C630,284 627,281 618.9,275.8 C615,274.5 611,274 608.4,274.1 C610,268 610,262 609.2,256.2 C607,252 603,248 597.8,246.5 C593,245 591,243 589.6,241.6 C587,238 585,235 584,232.7 C586,228 587,225 586.4,223.7 C588,218 588,214 588,213.9 C587,209 586,206 584,204.2 C588,209 593,213 599.4,215.6 C603,216 606,215 606.7,213.9 C610,211 612,209 612.4,207.4 C614,203 614.5,200 614,199.3 C613,195 611,191 609.2,189.5 C612,189 615,189 617.3,188.7 C622,187.5 625,186 627.1,184.6 C630,182 632,179 633.3,176.2 Z"/></clipPath><radialGradient id="lobe"><stop offset="0" stop-color="#e6e6e6"/><stop offset="0.5" stop-color="#cfcfcf" stop-opacity="0.9"/><stop offset="1" stop-color="#cfcfcf" stop-opacity="0"/></radialGradient></defs>
<g clip-path="url(#gyclip)">
<rect x="580" y="170" width="105" height="120" fill="#6a6a6a"/>
<circle cx="634" cy="205" r="26" fill="url(#lobe)"/>
<circle cx="598" cy="229" r="20" fill="url(#lobe)"/>
<circle cx="668" cy="238" r="19" fill="url(#lobe)"/>
<circle cx="632" cy="262" r="26" fill="url(#lobe)"/>
<circle cx="633" cy="232" r="16" fill="url(#lobe)"/>
<circle cx="606" cy="250" r="12" fill="url(#lobe)"/>
<circle cx="660" cy="218" r="12" fill="url(#lobe)"/>
</g>
<path d="M633.3,176.2 C636,183 640,187 646.6,190.3 C650,191 654,190.5 657.2,189.9 C655,196 654,202 654.7,205.8 C656,210 660,214 663.7,215.6 C668,217 674,220 677.5,225.3 C680,228 681,230 682.4,232.7 C680,238 678,245 677.5,251.4 C678,255 680,258 682.4,260.3 C677,255 670,251 664.5,249.7 C660,249 657,251 656.4,253 C653,257 652,265 655.6,273.3 C650,274.5 645,277 640.1,279.8 C637,282 634,285 632.8,287.2 C630,284 627,281 618.9,275.8 C615,274.5 611,274 608.4,274.1 C610,268 610,262 609.2,256.2 C607,252 603,248 597.8,246.5 C593,245 591,243 589.6,241.6 C587,238 585,235 584,232.7 C586,228 587,225 586.4,223.7 C588,218 588,214 588,213.9 C587,209 586,206 584,204.2 C588,209 593,213 599.4,215.6 C603,216 606,215 606.7,213.9 C610,211 612,209 612.4,207.4 C614,203 614.5,200 614,199.3 C613,195 611,191 609.2,189.5 C612,189 615,189 617.3,188.7 C622,187.5 625,186 627.1,184.6 C630,182 632,179 633.3,176.2 Z" fill="none" stroke="#3c3c3c" stroke-width="0.8"/>
<circle cx="617" cy="231.8" r="11.6" fill="#fff" stroke="#444" stroke-width="0.8"/>
<circle cx="649.5" cy="231.5" r="11.6" fill="#fff" stroke="#444" stroke-width="0.8"/>
<path d="M612,208 C625,203 645,203 656,196" stroke="#555" stroke-width="0.5" fill="none"/>
<path d="M603,247 C608,245.5 613,244 617.3,244 C624,246 629,254 632.8,260.3 C635,255 638,249 640.1,244" stroke="#555" stroke-width="0.5" fill="none"/>
<path d="M633.6,232.6 C633,227 636,221 645,218.8 C652,217.5 658,218 662,222 C665,227 665,233 663.7,236 C662,240 659,242 658,243.2 C656,247 654,251 653.1,254.6" stroke="#555" stroke-width="0.5" fill="none"/>
<g stroke="#c2c2c2" stroke-width="1">
<line x1="100.94" y1="359.20" x2="100.94" y2="500.60"/>
<line x1="163.01" y1="359.20" x2="163.01" y2="500.60"/>
<line x1="225.08" y1="359.20" x2="225.08" y2="500.60"/>
<line x1="287.14" y1="359.20" x2="287.14" y2="500.60"/>
<line x1="58.30" y1="465.25" x2="334.50" y2="465.25"/>
<line x1="58.30" y1="429.90" x2="334.50" y2="429.90"/>
<line x1="58.30" y1="394.55" x2="334.50" y2="394.55"/>
</g>
<polyline points="78.60,475.71 98.46,469.28 120.18,463.34 161.15,448.03 200.87,438.38 244.94,417.88 281.93,397.38 322.52,369.80" fill="none" stroke="#0b1a5e" stroke-width="1.8" stroke-linejoin="round"/>
<path d="M78.60,471.47 V479.96 M72.40,471.47 H84.80 M72.40,479.96 H84.80" stroke="#0b1a5e" stroke-width="1.5" fill="none"/>
<circle cx="78.60" cy="475.71" r="4.3" fill="#0b1a5e"/>
<path d="M98.46,465.39 V473.17 M92.26,465.39 H104.66 M92.26,473.17 H104.66" stroke="#0b1a5e" stroke-width="1.5" fill="none"/>
<circle cx="98.46" cy="469.28" r="4.3" fill="#0b1a5e"/>
<path d="M120.18,458.92 V467.76 M113.98,458.92 H126.38 M113.98,467.76 H126.38" stroke="#0b1a5e" stroke-width="1.5" fill="none"/>
<circle cx="120.18" cy="463.34" r="4.3" fill="#0b1a5e"/>
<path d="M161.15,442.38 V453.69 M154.95,442.38 H167.35 M154.95,453.69 H167.35" stroke="#0b1a5e" stroke-width="1.5" fill="none"/>
<circle cx="161.15" cy="448.03" r="4.3" fill="#0b1a5e"/>
<path d="M200.87,425.30 V451.46 M194.67,425.30 H207.07 M194.67,451.46 H207.07" stroke="#0b1a5e" stroke-width="1.5" fill="none"/>
<circle cx="200.87" cy="438.38" r="4.3" fill="#0b1a5e"/>
<path d="M244.94,408.69 V427.07 M238.74,408.69 H251.14 M238.74,427.07 H251.14" stroke="#0b1a5e" stroke-width="1.5" fill="none"/>
<circle cx="244.94" cy="417.88" r="4.3" fill="#0b1a5e"/>
<path d="M281.93,388.19 V406.57 M275.73,388.19 H288.13 M275.73,406.57 H288.13" stroke="#0b1a5e" stroke-width="1.5" fill="none"/>
<circle cx="281.93" cy="397.38" r="4.3" fill="#0b1a5e"/>
<path d="M322.52,365.21 V374.40 M316.32,365.21 H328.72 M316.32,374.40 H328.72" stroke="#0b1a5e" stroke-width="1.5" fill="none"/>
<circle cx="322.52" cy="369.80" r="4.3" fill="#0b1a5e"/>
<polyline points="86.04,488.93 107.77,484.69 125.15,483.63 164.62,473.63 202.11,463.84 239.97,450.05 275.35,437.32 320.04,413.07" fill="none" stroke="#3a6e55" stroke-width="1.8" stroke-linejoin="round"/>
<path d="M86.04,487.17 V490.70 M79.84,487.17 H92.24 M79.84,490.70 H92.24" stroke="#3a6e55" stroke-width="1.5" fill="none"/>
<circle cx="86.04" cy="488.93" r="4.3" fill="#3a6e55"/>
<path d="M107.77,482.93 V486.46 M101.57,482.93 H113.97 M101.57,486.46 H113.97" stroke="#3a6e55" stroke-width="1.5" fill="none"/>
<circle cx="107.77" cy="484.69" r="4.3" fill="#3a6e55"/>
<path d="M125.15,481.51 V485.75 M118.95,481.51 H131.35 M118.95,485.75 H131.35" stroke="#3a6e55" stroke-width="1.5" fill="none"/>
<circle cx="125.15" cy="483.63" r="4.3" fill="#3a6e55"/>
<path d="M164.62,471.51 V475.75 M158.42,471.51 H170.82 M158.42,475.75 H170.82" stroke="#3a6e55" stroke-width="1.5" fill="none"/>
<circle cx="164.62" cy="473.63" r="4.3" fill="#3a6e55"/>
<path d="M202.11,461.72 V465.96 M195.91,461.72 H208.31 M195.91,465.96 H208.31" stroke="#3a6e55" stroke-width="1.5" fill="none"/>
<circle cx="202.11" cy="463.84" r="4.3" fill="#3a6e55"/>
<path d="M239.97,443.33 V456.77 M233.77,443.33 H246.17 M233.77,456.77 H246.17" stroke="#3a6e55" stroke-width="1.5" fill="none"/>
<circle cx="239.97" cy="450.05" r="4.3" fill="#3a6e55"/>
<path d="M275.35,435.20 V439.44 M269.15,435.20 H281.55 M269.15,439.44 H281.55" stroke="#3a6e55" stroke-width="1.5" fill="none"/>
<circle cx="275.35" cy="437.32" r="4.3" fill="#3a6e55"/>
<path d="M320.04,406.00 V420.14 M313.84,406.00 H326.24 M313.84,420.14 H326.24" stroke="#3a6e55" stroke-width="1.5" fill="none"/>
<circle cx="320.04" cy="413.07" r="4.3" fill="#3a6e55"/>
<polyline points="69.91,494.24 89.15,494.24 115.84,490.00 150.59,484.69 189.08,478.68 227.87,468.08 265.36,458.53 303.28,446.51" fill="none" stroke="#d6943f" stroke-width="1.8" stroke-linejoin="round"/>
<path d="M69.91,492.47 V496.00 M63.71,492.47 H76.11 M63.71,496.00 H76.11" stroke="#d6943f" stroke-width="1.5" fill="none"/>
<circle cx="69.91" cy="494.24" r="4.3" fill="#d6943f"/>
<path d="M89.15,490.35 V498.13 M82.95,490.35 H95.35 M82.95,498.13 H95.35" stroke="#d6943f" stroke-width="1.5" fill="none"/>
<circle cx="89.15" cy="494.24" r="4.3" fill="#d6943f"/>
<path d="M115.84,488.23 V491.76 M109.64,488.23 H122.04 M109.64,491.76 H122.04" stroke="#d6943f" stroke-width="1.5" fill="none"/>
<circle cx="115.84" cy="490.00" r="4.3" fill="#d6943f"/>
<path d="M150.59,483.28 V486.11 M144.39,483.28 H156.79 M144.39,486.11 H156.79" stroke="#d6943f" stroke-width="1.5" fill="none"/>
<circle cx="150.59" cy="484.69" r="4.3" fill="#d6943f"/>
<path d="M189.08,477.27 V480.10 M182.88,477.27 H195.28 M182.88,480.10 H195.28" stroke="#d6943f" stroke-width="1.5" fill="none"/>
<circle cx="189.08" cy="478.68" r="4.3" fill="#d6943f"/>
<path d="M227.87,466.66 V469.49 M221.67,466.66 H234.07 M221.67,469.49 H234.07" stroke="#d6943f" stroke-width="1.5" fill="none"/>
<circle cx="227.87" cy="468.08" r="4.3" fill="#d6943f"/>
<path d="M265.36,456.77 V460.30 M259.16,456.77 H271.56 M259.16,460.30 H271.56" stroke="#d6943f" stroke-width="1.5" fill="none"/>
<circle cx="265.36" cy="458.53" r="4.3" fill="#d6943f"/>
<path d="M303.28,444.75 V448.28 M297.08,444.75 H309.48 M297.08,448.28 H309.48" stroke="#d6943f" stroke-width="1.5" fill="none"/>
<circle cx="303.28" cy="446.51" r="4.3" fill="#d6943f"/>
<rect x="58.30" y="359.20" width="276.20" height="141.40" fill="none" stroke="#333" stroke-width="1.2"/>
<g stroke="#333" stroke-width="1.2">
<line x1="100.94" y1="500.60" x2="100.94" y2="504.60"/>
<line x1="163.01" y1="500.60" x2="163.01" y2="504.60"/>
<line x1="225.08" y1="500.60" x2="225.08" y2="504.60"/>
<line x1="287.14" y1="500.60" x2="287.14" y2="504.60"/>
<line x1="54.30" y1="500.60" x2="58.30" y2="500.60"/>
<line x1="54.30" y1="465.25" x2="58.30" y2="465.25"/>
<line x1="54.30" y1="429.90" x2="58.30" y2="429.90"/>
<line x1="54.30" y1="394.55" x2="58.30" y2="394.55"/>
<line x1="54.30" y1="359.20" x2="58.30" y2="359.20"/>
</g>
<text x="100.94" y="517.20" font-size="10.5" font-weight="bold" text-anchor="middle" fill="#000" textLength="16.06" lengthAdjust="spacingAndGlyphs">0.2</text>
<text x="163.01" y="517.20" font-size="10.5" font-weight="bold" text-anchor="middle" fill="#000" textLength="16.06" lengthAdjust="spacingAndGlyphs">0.3</text>
<text x="225.08" y="517.20" font-size="10.5" font-weight="bold" text-anchor="middle" fill="#000" textLength="16.06" lengthAdjust="spacingAndGlyphs">0.4</text>
<text x="287.14" y="517.20" font-size="10.5" font-weight="bold" text-anchor="middle" fill="#000" textLength="16.06" lengthAdjust="spacingAndGlyphs">0.5</text>
<text x="49.10" y="504.70" font-size="10.5" font-weight="bold" text-anchor="end" fill="#000" textLength="6.54" lengthAdjust="spacingAndGlyphs">0</text>
<text x="49.10" y="469.35" font-size="10.5" font-weight="bold" text-anchor="end" fill="#000" textLength="19.62" lengthAdjust="spacingAndGlyphs">100</text>
<text x="49.10" y="434.00" font-size="10.5" font-weight="bold" text-anchor="end" fill="#000" textLength="19.62" lengthAdjust="spacingAndGlyphs">200</text>
<text x="49.10" y="398.65" font-size="10.5" font-weight="bold" text-anchor="end" fill="#000" textLength="19.62" lengthAdjust="spacingAndGlyphs">300</text>
<text x="49.10" y="363.30" font-size="10.5" font-weight="bold" text-anchor="end" fill="#000" textLength="19.62" lengthAdjust="spacingAndGlyphs">400</text>
<text x="133.30" y="353.00" font-size="13.8" font-weight="bold" text-anchor="start" fill="#000" textLength="107.5" lengthAdjust="spacingAndGlyphs" stroke="#000" stroke-width="0.25">young’s modulus</text>
<text x="196.40" y="531.80" font-size="10" font-weight="bold" text-anchor="middle" fill="#000" textLength="75.9" lengthAdjust="spacingAndGlyphs">relative density</text>
<g transform="translate(21.40,430.10) rotate(-90)">
<text x="0.00" y="0.00" font-size="9.6" font-weight="bold" text-anchor="middle" fill="#000" textLength="71.6" lengthAdjust="spacingAndGlyphs">modulus (kPa)</text>
</g>
<g stroke="#c2c2c2" stroke-width="1">
<line x1="443.77" y1="359.80" x2="443.77" y2="500.80"/>
<line x1="507.48" y1="359.80" x2="507.48" y2="500.80"/>
<line x1="571.18" y1="359.80" x2="571.18" y2="500.80"/>
<line x1="634.89" y1="359.80" x2="634.89" y2="500.80"/>
<line x1="400.00" y1="472.60" x2="683.50" y2="472.60"/>
<line x1="400.00" y1="444.40" x2="683.50" y2="444.40"/>
<line x1="400.00" y1="416.20" x2="683.50" y2="416.20"/>
<line x1="400.00" y1="388.00" x2="683.50" y2="388.00"/>
</g>
<polyline points="420.64,491.89 440.45,488.96 462.69,484.73 505.50,476.10 546.08,467.52 590.93,442.71 629.54,416.20 671.84,385.18" fill="none" stroke="#0b1a5e" stroke-width="1.8" stroke-linejoin="round"/>
<path d="M420.64,490.20 V493.58 M414.44,490.20 H426.84 M414.44,493.58 H426.84" stroke="#0b1a5e" stroke-width="1.5" fill="none"/>
<circle cx="420.64" cy="491.89" r="4.3" fill="#0b1a5e"/>
<path d="M440.45,487.26 V490.65 M434.25,487.26 H446.65 M434.25,490.65 H446.65" stroke="#0b1a5e" stroke-width="1.5" fill="none"/>
<circle cx="440.45" cy="488.96" r="4.3" fill="#0b1a5e"/>
<path d="M462.69,482.19 V487.26 M456.49,482.19 H468.89 M456.49,487.26 H468.89" stroke="#0b1a5e" stroke-width="1.5" fill="none"/>
<circle cx="462.69" cy="484.73" r="4.3" fill="#0b1a5e"/>
<path d="M505.50,473.84 V478.35 M499.30,473.84 H511.70 M499.30,478.35 H511.70" stroke="#0b1a5e" stroke-width="1.5" fill="none"/>
<circle cx="505.50" cy="476.10" r="4.3" fill="#0b1a5e"/>
<path d="M546.08,459.63 V475.42 M539.88,459.63 H552.28 M539.88,475.42 H552.28" stroke="#0b1a5e" stroke-width="1.5" fill="none"/>
<circle cx="546.08" cy="467.52" r="4.3" fill="#0b1a5e"/>
<path d="M590.93,439.32 V446.09 M584.73,439.32 H597.13 M584.73,446.09 H597.13" stroke="#0b1a5e" stroke-width="1.5" fill="none"/>
<circle cx="590.93" cy="442.71" r="4.3" fill="#0b1a5e"/>
<path d="M629.54,411.12 V421.28 M623.34,411.12 H635.74 M623.34,421.28 H635.74" stroke="#0b1a5e" stroke-width="1.5" fill="none"/>
<circle cx="629.54" cy="416.20" r="4.3" fill="#0b1a5e"/>
<path d="M671.84,377.57 V392.79 M665.64,377.57 H678.04 M665.64,392.79 H678.04" stroke="#0b1a5e" stroke-width="1.5" fill="none"/>
<circle cx="671.84" cy="385.18" r="4.3" fill="#0b1a5e"/>
<polyline points="428.86,493.81 450.58,491.78 468.10,490.08 509.00,482.75 546.97,475.98 585.64,467.81 622.53,458.73 667.38,446.09" fill="none" stroke="#3a6e55" stroke-width="1.8" stroke-linejoin="round"/>
<path d="M428.86,492.11 V495.50 M422.66,492.11 H435.06 M422.66,495.50 H435.06" stroke="#3a6e55" stroke-width="1.5" fill="none"/>
<circle cx="428.86" cy="493.81" r="4.3" fill="#3a6e55"/>
<path d="M450.58,490.08 V493.47 M444.38,490.08 H456.78 M444.38,493.47 H456.78" stroke="#3a6e55" stroke-width="1.5" fill="none"/>
<circle cx="450.58" cy="491.78" r="4.3" fill="#3a6e55"/>
<path d="M468.10,488.39 V491.78 M461.90,488.39 H474.30 M461.90,491.78 H474.30" stroke="#3a6e55" stroke-width="1.5" fill="none"/>
<circle cx="468.10" cy="490.08" r="4.3" fill="#3a6e55"/>
<path d="M509.00,480.78 V484.73 M502.80,480.78 H515.20 M502.80,484.73 H515.20" stroke="#3a6e55" stroke-width="1.5" fill="none"/>
<circle cx="509.00" cy="482.75" r="4.3" fill="#3a6e55"/>
<path d="M546.97,473.16 V478.80 M540.77,473.16 H553.17 M540.77,478.80 H553.17" stroke="#3a6e55" stroke-width="1.5" fill="none"/>
<circle cx="546.97" cy="475.98" r="4.3" fill="#3a6e55"/>
<path d="M585.64,463.86 V471.75 M579.44,463.86 H591.84 M579.44,471.75 H591.84" stroke="#3a6e55" stroke-width="1.5" fill="none"/>
<circle cx="585.64" cy="467.81" r="4.3" fill="#3a6e55"/>
<path d="M622.53,456.19 V461.26 M616.33,456.19 H628.73 M616.33,461.26 H628.73" stroke="#3a6e55" stroke-width="1.5" fill="none"/>
<circle cx="622.53" cy="458.73" r="4.3" fill="#3a6e55"/>
<path d="M667.38,441.58 V450.60 M661.18,441.58 H673.58 M661.18,450.60 H673.58" stroke="#3a6e55" stroke-width="1.5" fill="none"/>
<circle cx="667.38" cy="446.09" r="4.3" fill="#3a6e55"/>
<polyline points="412.42,497.08 431.66,495.39 459.18,494.03 494.99,489.52 534.49,484.22 573.73,477.79 612.72,471.02 651.84,462.45" fill="none" stroke="#d6943f" stroke-width="1.8" stroke-linejoin="round"/>
<path d="M412.42,495.95 V498.21 M406.22,495.95 H418.62 M406.22,498.21 H418.62" stroke="#d6943f" stroke-width="1.5" fill="none"/>
<circle cx="412.42" cy="497.08" r="4.3" fill="#d6943f"/>
<path d="M431.66,494.26 V496.51 M425.46,494.26 H437.86 M425.46,496.51 H437.86" stroke="#d6943f" stroke-width="1.5" fill="none"/>
<circle cx="431.66" cy="495.39" r="4.3" fill="#d6943f"/>
<path d="M459.18,492.90 V495.16 M452.98,492.90 H465.38 M452.98,495.16 H465.38" stroke="#d6943f" stroke-width="1.5" fill="none"/>
<circle cx="459.18" cy="494.03" r="4.3" fill="#d6943f"/>
<path d="M494.99,488.39 V490.65 M488.79,488.39 H501.19 M488.79,490.65 H501.19" stroke="#d6943f" stroke-width="1.5" fill="none"/>
<circle cx="494.99" cy="489.52" r="4.3" fill="#d6943f"/>
<path d="M534.49,483.09 V485.35 M528.29,483.09 H540.69 M528.29,485.35 H540.69" stroke="#d6943f" stroke-width="1.5" fill="none"/>
<circle cx="534.49" cy="484.22" r="4.3" fill="#d6943f"/>
<path d="M573.73,476.66 V478.92 M567.53,476.66 H579.93 M567.53,478.92 H579.93" stroke="#d6943f" stroke-width="1.5" fill="none"/>
<circle cx="573.73" cy="477.79" r="4.3" fill="#d6943f"/>
<path d="M612.72,469.89 V472.15 M606.52,469.89 H618.92 M606.52,472.15 H618.92" stroke="#d6943f" stroke-width="1.5" fill="none"/>
<circle cx="612.72" cy="471.02" r="4.3" fill="#d6943f"/>
<path d="M651.84,460.76 V464.14 M645.64,460.76 H658.04 M645.64,464.14 H658.04" stroke="#d6943f" stroke-width="1.5" fill="none"/>
<circle cx="651.84" cy="462.45" r="4.3" fill="#d6943f"/>
<rect x="400.00" y="359.80" width="283.50" height="141.00" fill="none" stroke="#333" stroke-width="1.2"/>
<g stroke="#333" stroke-width="1.2">
<line x1="443.77" y1="500.80" x2="443.77" y2="504.80"/>
<line x1="507.48" y1="500.80" x2="507.48" y2="504.80"/>
<line x1="571.18" y1="500.80" x2="571.18" y2="504.80"/>
<line x1="634.89" y1="500.80" x2="634.89" y2="504.80"/>
<line x1="396.00" y1="500.80" x2="400.00" y2="500.80"/>
<line x1="396.00" y1="472.60" x2="400.00" y2="472.60"/>
<line x1="396.00" y1="444.40" x2="400.00" y2="444.40"/>
<line x1="396.00" y1="416.20" x2="400.00" y2="416.20"/>
<line x1="396.00" y1="388.00" x2="400.00" y2="388.00"/>
<line x1="396.00" y1="359.80" x2="400.00" y2="359.80"/>
</g>
<text x="443.77" y="517.40" font-size="10.5" font-weight="bold" text-anchor="middle" fill="#000" textLength="16.06" lengthAdjust="spacingAndGlyphs">0.2</text>
<text x="507.48" y="517.40" font-size="10.5" font-weight="bold" text-anchor="middle" fill="#000" textLength="16.06" lengthAdjust="spacingAndGlyphs">0.3</text>
<text x="571.18" y="517.40" font-size="10.5" font-weight="bold" text-anchor="middle" fill="#000" textLength="16.06" lengthAdjust="spacingAndGlyphs">0.4</text>
<text x="634.89" y="517.40" font-size="10.5" font-weight="bold" text-anchor="middle" fill="#000" textLength="16.06" lengthAdjust="spacingAndGlyphs">0.5</text>
<text x="390.80" y="504.90" font-size="10.5" font-weight="bold" text-anchor="end" fill="#000" textLength="6.54" lengthAdjust="spacingAndGlyphs">0</text>
<text x="390.80" y="476.70" font-size="10.5" font-weight="bold" text-anchor="end" fill="#000" textLength="6.54" lengthAdjust="spacingAndGlyphs">5</text>
<text x="390.80" y="448.50" font-size="10.5" font-weight="bold" text-anchor="end" fill="#000" textLength="13.08" lengthAdjust="spacingAndGlyphs">10</text>
<text x="390.80" y="420.30" font-size="10.5" font-weight="bold" text-anchor="end" fill="#000" textLength="13.08" lengthAdjust="spacingAndGlyphs">15</text>
<text x="390.80" y="392.10" font-size="10.5" font-weight="bold" text-anchor="end" fill="#000" textLength="13.08" lengthAdjust="spacingAndGlyphs">20</text>
<text x="390.80" y="363.90" font-size="10.5" font-weight="bold" text-anchor="end" fill="#000" textLength="13.08" lengthAdjust="spacingAndGlyphs">25</text>
<text x="526.20" y="352.30" font-size="13.8" font-weight="bold" text-anchor="start" fill="#000" textLength="28.4" lengthAdjust="spacingAndGlyphs" stroke="#000" stroke-width="0.25">UTS</text>
<text x="541.75" y="532.00" font-size="10" font-weight="bold" text-anchor="middle" fill="#000" textLength="75.9" lengthAdjust="spacingAndGlyphs">relative density</text>
<g transform="translate(369.90,431.20) rotate(-90)">
<text x="0.00" y="0.00" font-size="9.6" font-weight="bold" text-anchor="middle" fill="#000" textLength="58.6" lengthAdjust="spacingAndGlyphs">stress (kPa)</text>
</g>
<g stroke="#c2c2c2" stroke-width="1">
<line x1="103.39" y1="562.80" x2="103.39" y2="708.10"/>
<line x1="164.94" y1="562.80" x2="164.94" y2="708.10"/>
<line x1="226.49" y1="562.80" x2="226.49" y2="708.10"/>
<line x1="288.04" y1="562.80" x2="288.04" y2="708.10"/>
<line x1="61.10" y1="655.21" x2="335.00" y2="655.21"/>
<line x1="61.10" y1="602.31" x2="335.00" y2="602.31"/>
</g>
<polyline points="80.61,691.81 100.31,688.53 122.34,685.20 163.40,674.99 203.10,653.62 246.43,617.39 283.17,593.53 323.49,577.50" fill="none" stroke="#0b1a5e" stroke-width="1.8" stroke-linejoin="round"/>
<path d="M80.61,690.75 V692.87 M74.41,690.75 H86.81 M74.41,692.87 H86.81" stroke="#0b1a5e" stroke-width="1.5" fill="none"/>
<circle cx="80.61" cy="691.81" r="4.3" fill="#0b1a5e"/>
<path d="M100.31,687.47 V689.59 M94.11,687.47 H106.51 M94.11,689.59 H106.51" stroke="#0b1a5e" stroke-width="1.5" fill="none"/>
<circle cx="100.31" cy="688.53" r="4.3" fill="#0b1a5e"/>
<path d="M122.34,683.61 V686.78 M116.14,683.61 H128.54 M116.14,686.78 H128.54" stroke="#0b1a5e" stroke-width="1.5" fill="none"/>
<circle cx="122.34" cy="685.20" r="4.3" fill="#0b1a5e"/>
<path d="M163.40,669.43 V680.54 M157.20,669.43 H169.60 M157.20,680.54 H169.60" stroke="#0b1a5e" stroke-width="1.5" fill="none"/>
<circle cx="163.40" cy="674.99" r="4.3" fill="#0b1a5e"/>
<path d="M203.10,638.28 V668.96 M196.90,638.28 H209.30 M196.90,668.96 H209.30" stroke="#0b1a5e" stroke-width="1.5" fill="none"/>
<circle cx="203.10" cy="653.62" r="4.3" fill="#0b1a5e"/>
<path d="M246.43,606.28 V628.49 M240.23,606.28 H252.63 M240.23,628.49 H252.63" stroke="#0b1a5e" stroke-width="1.5" fill="none"/>
<circle cx="246.43" cy="617.39" r="4.3" fill="#0b1a5e"/>
<path d="M283.17,582.95 V604.11 M276.97,582.95 H289.37 M276.97,604.11 H289.37" stroke="#0b1a5e" stroke-width="1.5" fill="none"/>
<circle cx="283.17" cy="593.53" r="4.3" fill="#0b1a5e"/>
<path d="M323.49,569.83 V585.17 M317.29,569.83 H329.69 M317.29,585.17 H329.69" stroke="#0b1a5e" stroke-width="1.5" fill="none"/>
<circle cx="323.49" cy="577.50" r="4.3" fill="#0b1a5e"/>
<polyline points="88.61,651.50 110.16,640.61 127.39,641.03 167.15,627.44 204.08,626.80 241.38,629.82 276.77,630.03 319.06,645.16" fill="none" stroke="#3a6e55" stroke-width="1.8" stroke-linejoin="round"/>
<path d="M88.61,635.64 V667.37 M82.41,635.64 H94.81 M82.41,667.37 H94.81" stroke="#3a6e55" stroke-width="1.5" fill="none"/>
<circle cx="88.61" cy="651.50" r="4.3" fill="#3a6e55"/>
<path d="M110.16,627.38 V653.83 M103.96,627.38 H116.36 M103.96,653.83 H116.36" stroke="#3a6e55" stroke-width="1.5" fill="none"/>
<circle cx="110.16" cy="640.61" r="4.3" fill="#3a6e55"/>
<path d="M127.39,619.87 V662.19 M121.19,619.87 H133.59 M121.19,662.19 H133.59" stroke="#3a6e55" stroke-width="1.5" fill="none"/>
<circle cx="127.39" cy="641.03" r="4.3" fill="#3a6e55"/>
<path d="M167.15,623.21 V631.67 M160.95,623.21 H173.35 M160.95,631.67 H173.35" stroke="#3a6e55" stroke-width="1.5" fill="none"/>
<circle cx="167.15" cy="627.44" r="4.3" fill="#3a6e55"/>
<path d="M204.08,616.22 V637.38 M197.88,616.22 H210.28 M197.88,637.38 H210.28" stroke="#3a6e55" stroke-width="1.5" fill="none"/>
<circle cx="204.08" cy="626.80" r="4.3" fill="#3a6e55"/>
<path d="M241.38,619.24 V640.40 M235.18,619.24 H247.58 M235.18,640.40 H247.58" stroke="#3a6e55" stroke-width="1.5" fill="none"/>
<circle cx="241.38" cy="629.82" r="4.3" fill="#3a6e55"/>
<path d="M276.77,627.38 V632.67 M270.57,627.38 H282.97 M270.57,632.67 H282.97" stroke="#3a6e55" stroke-width="1.5" fill="none"/>
<circle cx="276.77" cy="630.03" r="4.3" fill="#3a6e55"/>
<path d="M319.06,642.51 V647.80 M312.86,642.51 H325.26 M312.86,647.80 H325.26" stroke="#3a6e55" stroke-width="1.5" fill="none"/>
<circle cx="319.06" cy="645.16" r="4.3" fill="#3a6e55"/>
<polyline points="73.35,666.84 91.69,653.62 118.16,641.03 153.24,638.28 191.71,641.61 229.93,641.72 266.93,636.01 304.04,636.69" fill="none" stroke="#d6943f" stroke-width="1.8" stroke-linejoin="round"/>
<path d="M73.35,664.73 V668.96 M67.15,664.73 H79.55 M67.15,668.96 H79.55" stroke="#d6943f" stroke-width="1.5" fill="none"/>
<circle cx="73.35" cy="666.84" r="4.3" fill="#d6943f"/>
<path d="M91.69,646.21 V661.02 M85.49,646.21 H97.89 M85.49,661.02 H97.89" stroke="#d6943f" stroke-width="1.5" fill="none"/>
<circle cx="91.69" cy="653.62" r="4.3" fill="#d6943f"/>
<path d="M118.16,626.75 V655.31 M111.96,626.75 H124.36 M111.96,655.31 H124.36" stroke="#d6943f" stroke-width="1.5" fill="none"/>
<circle cx="118.16" cy="641.03" r="4.3" fill="#d6943f"/>
<path d="M153.24,632.62 V643.94 M147.04,632.62 H159.44 M147.04,643.94 H159.44" stroke="#d6943f" stroke-width="1.5" fill="none"/>
<circle cx="153.24" cy="638.28" r="4.3" fill="#d6943f"/>
<path d="M191.71,639.50 V643.73 M185.51,639.50 H197.91 M185.51,643.73 H197.91" stroke="#d6943f" stroke-width="1.5" fill="none"/>
<circle cx="191.71" cy="641.61" r="4.3" fill="#d6943f"/>
<path d="M229.93,638.02 V645.42 M223.73,638.02 H236.13 M223.73,645.42 H236.13" stroke="#d6943f" stroke-width="1.5" fill="none"/>
<circle cx="229.93" cy="641.72" r="4.3" fill="#d6943f"/>
<path d="M266.93,632.30 V639.71 M260.73,632.30 H273.13 M260.73,639.71 H273.13" stroke="#d6943f" stroke-width="1.5" fill="none"/>
<circle cx="266.93" cy="636.01" r="4.3" fill="#d6943f"/>
<path d="M304.04,631.93 V641.45 M297.84,631.93 H310.24 M297.84,641.45 H310.24" stroke="#d6943f" stroke-width="1.5" fill="none"/>
<circle cx="304.04" cy="636.69" r="4.3" fill="#d6943f"/>
<rect x="61.10" y="562.80" width="273.90" height="145.30" fill="none" stroke="#333" stroke-width="1.2"/>
<g stroke="#333" stroke-width="1.2">
<line x1="103.39" y1="708.10" x2="103.39" y2="712.10"/>
<line x1="164.94" y1="708.10" x2="164.94" y2="712.10"/>
<line x1="226.49" y1="708.10" x2="226.49" y2="712.10"/>
<line x1="288.04" y1="708.10" x2="288.04" y2="712.10"/>
<line x1="57.10" y1="708.10" x2="61.10" y2="708.10"/>
<line x1="57.10" y1="655.21" x2="61.10" y2="655.21"/>
<line x1="57.10" y1="602.31" x2="61.10" y2="602.31"/>
</g>
<text x="103.39" y="724.70" font-size="10.5" font-weight="bold" text-anchor="middle" fill="#000" textLength="16.06" lengthAdjust="spacingAndGlyphs">0.2</text>
<text x="164.94" y="724.70" font-size="10.5" font-weight="bold" text-anchor="middle" fill="#000" textLength="16.06" lengthAdjust="spacingAndGlyphs">0.3</text>
<text x="226.49" y="724.70" font-size="10.5" font-weight="bold" text-anchor="middle" fill="#000" textLength="16.06" lengthAdjust="spacingAndGlyphs">0.4</text>
<text x="288.04" y="724.70" font-size="10.5" font-weight="bold" text-anchor="middle" fill="#000" textLength="16.06" lengthAdjust="spacingAndGlyphs">0.5</text>
<text x="51.90" y="712.20" font-size="10.5" font-weight="bold" text-anchor="end" fill="#000" textLength="16.35" lengthAdjust="spacingAndGlyphs">0.0</text>
<text x="51.90" y="659.31" font-size="10.5" font-weight="bold" text-anchor="end" fill="#000" textLength="16.35" lengthAdjust="spacingAndGlyphs">0.1</text>
<text x="51.90" y="606.41" font-size="10.5" font-weight="bold" text-anchor="end" fill="#000" textLength="16.35" lengthAdjust="spacingAndGlyphs">0.2</text>
<text x="157.30" y="557.40" font-size="13.8" font-weight="bold" text-anchor="start" fill="#000" textLength="79.7" lengthAdjust="spacingAndGlyphs" stroke="#000" stroke-width="0.25">failure strain</text>
<text x="198.05" y="739.30" font-size="10" font-weight="bold" text-anchor="middle" fill="#000" textLength="75.9" lengthAdjust="spacingAndGlyphs">relative density</text>
<g transform="translate(29.00,635.60) rotate(-90)">
<text x="0.00" y="0.00" font-size="9.6" font-weight="bold" text-anchor="middle" fill="#000" textLength="28.2" lengthAdjust="spacingAndGlyphs">strain</text>
</g>
<g stroke="#c2c2c2" stroke-width="1">
<line x1="438.73" y1="562.80" x2="438.73" y2="708.50"/>
<line x1="503.70" y1="562.80" x2="503.70" y2="708.50"/>
<line x1="568.66" y1="562.80" x2="568.66" y2="708.50"/>
<line x1="633.63" y1="562.80" x2="633.63" y2="708.50"/>
<line x1="394.10" y1="666.70" x2="683.20" y2="666.70"/>
<line x1="394.10" y1="624.91" x2="683.20" y2="624.91"/>
<line x1="394.10" y1="583.11" x2="683.20" y2="583.11"/>
</g>
<polyline points="415.34,705.57 435.48,705.16 459.39,705.57 502.14,696.38 544.63,682.17 589.45,655.00 628.11,613.21 670.34,568.07" fill="none" stroke="#0b1a5e" stroke-width="1.8" stroke-linejoin="round"/>
<path d="M415.34,704.74 V706.41 M409.14,704.74 H421.54 M409.14,706.41 H421.54" stroke="#0b1a5e" stroke-width="1.5" fill="none"/>
<circle cx="415.34" cy="705.57" r="4.3" fill="#0b1a5e"/>
<path d="M435.48,704.32 V705.99 M429.28,704.32 H441.68 M429.28,705.99 H441.68" stroke="#0b1a5e" stroke-width="1.5" fill="none"/>
<circle cx="435.48" cy="705.16" r="4.3" fill="#0b1a5e"/>
<path d="M459.39,704.32 V706.83 M453.19,704.32 H465.59 M453.19,706.83 H465.59" stroke="#0b1a5e" stroke-width="1.5" fill="none"/>
<circle cx="459.39" cy="705.57" r="4.3" fill="#0b1a5e"/>
<path d="M502.14,694.29 V698.47 M495.94,694.29 H508.34 M495.94,698.47 H508.34" stroke="#0b1a5e" stroke-width="1.5" fill="none"/>
<circle cx="502.14" cy="696.38" r="4.3" fill="#0b1a5e"/>
<path d="M544.63,669.21 V695.13 M538.43,669.21 H550.83 M538.43,695.13 H550.83" stroke="#0b1a5e" stroke-width="1.5" fill="none"/>
<circle cx="544.63" cy="682.17" r="4.3" fill="#0b1a5e"/>
<path d="M589.45,647.90 V662.11 M583.25,647.90 H595.65 M583.25,662.11 H595.65" stroke="#0b1a5e" stroke-width="1.5" fill="none"/>
<circle cx="589.45" cy="655.00" r="4.3" fill="#0b1a5e"/>
<path d="M628.11,608.61 V617.80 M621.91,608.61 H634.31 M621.91,617.80 H634.31" stroke="#0b1a5e" stroke-width="1.5" fill="none"/>
<circle cx="628.11" cy="613.21" r="4.3" fill="#0b1a5e"/>
<path d="M670.34,563.89 V572.25 M664.14,563.89 H676.54 M664.14,572.25 H676.54" stroke="#0b1a5e" stroke-width="1.5" fill="none"/>
<circle cx="670.34" cy="568.07" r="4.3" fill="#0b1a5e"/>
<polyline points="422.69,701.81 445.88,698.47 463.42,698.47 505.26,688.02 544.69,681.75 584.45,669.21 621.55,665.87 665.92,655.84" fill="none" stroke="#3a6e55" stroke-width="1.8" stroke-linejoin="round"/>
<path d="M422.69,700.56 V703.07 M416.49,700.56 H428.89 M416.49,703.07 H428.89" stroke="#3a6e55" stroke-width="1.5" fill="none"/>
<circle cx="422.69" cy="701.81" r="4.3" fill="#3a6e55"/>
<path d="M445.88,697.22 V699.72 M439.68,697.22 H452.08 M439.68,699.72 H452.08" stroke="#3a6e55" stroke-width="1.5" fill="none"/>
<circle cx="445.88" cy="698.47" r="4.3" fill="#3a6e55"/>
<path d="M463.42,696.38 V700.56 M457.22,696.38 H469.62 M457.22,700.56 H469.62" stroke="#3a6e55" stroke-width="1.5" fill="none"/>
<circle cx="463.42" cy="698.47" r="4.3" fill="#3a6e55"/>
<path d="M505.26,683.84 V692.20 M499.06,683.84 H511.46 M499.06,692.20 H511.46" stroke="#3a6e55" stroke-width="1.5" fill="none"/>
<circle cx="505.26" cy="688.02" r="4.3" fill="#3a6e55"/>
<path d="M544.69,675.27 V688.23 M538.49,675.27 H550.89 M538.49,688.23 H550.89" stroke="#3a6e55" stroke-width="1.5" fill="none"/>
<circle cx="544.69" cy="681.75" r="4.3" fill="#3a6e55"/>
<path d="M584.45,658.35 V680.08 M578.25,658.35 H590.65 M578.25,680.08 H590.65" stroke="#3a6e55" stroke-width="1.5" fill="none"/>
<circle cx="584.45" cy="669.21" r="4.3" fill="#3a6e55"/>
<path d="M621.55,655.84 V675.90 M615.35,655.84 H627.75 M615.35,675.90 H627.75" stroke="#3a6e55" stroke-width="1.5" fill="none"/>
<circle cx="621.55" cy="665.87" r="4.3" fill="#3a6e55"/>
<path d="M665.92,646.22 V665.45 M659.72,646.22 H672.12 M659.72,665.45 H672.12" stroke="#3a6e55" stroke-width="1.5" fill="none"/>
<circle cx="665.92" cy="655.84" r="4.3" fill="#3a6e55"/>
<polyline points="407.03,705.57 426.91,704.32 454.84,701.81 491.03,698.89 531.31,694.71 571.91,690.53 610.89,681.75 649.94,674.65" fill="none" stroke="#d6943f" stroke-width="1.8" stroke-linejoin="round"/>
<path d="M407.03,704.74 V706.41 M400.83,704.74 H413.23 M400.83,706.41 H413.23" stroke="#d6943f" stroke-width="1.5" fill="none"/>
<circle cx="407.03" cy="705.57" r="4.3" fill="#d6943f"/>
<path d="M426.91,703.48 V705.16 M420.71,703.48 H433.11 M420.71,705.16 H433.11" stroke="#d6943f" stroke-width="1.5" fill="none"/>
<circle cx="426.91" cy="704.32" r="4.3" fill="#d6943f"/>
<path d="M454.84,700.56 V703.07 M448.64,700.56 H461.04 M448.64,703.07 H461.04" stroke="#d6943f" stroke-width="1.5" fill="none"/>
<circle cx="454.84" cy="701.81" r="4.3" fill="#d6943f"/>
<path d="M491.03,697.63 V700.14 M484.83,697.63 H497.23 M484.83,700.14 H497.23" stroke="#d6943f" stroke-width="1.5" fill="none"/>
<circle cx="491.03" cy="698.89" r="4.3" fill="#d6943f"/>
<path d="M531.31,693.45 V695.96 M525.11,693.45 H537.51 M525.11,695.96 H537.51" stroke="#d6943f" stroke-width="1.5" fill="none"/>
<circle cx="531.31" cy="694.71" r="4.3" fill="#d6943f"/>
<path d="M571.91,689.27 V691.78 M565.71,689.27 H578.11 M565.71,691.78 H578.11" stroke="#d6943f" stroke-width="1.5" fill="none"/>
<circle cx="571.91" cy="690.53" r="4.3" fill="#d6943f"/>
<path d="M610.89,680.08 V683.42 M604.69,680.08 H617.09 M604.69,683.42 H617.09" stroke="#d6943f" stroke-width="1.5" fill="none"/>
<circle cx="610.89" cy="681.75" r="4.3" fill="#d6943f"/>
<path d="M649.94,672.14 V677.15 M643.74,672.14 H656.14 M643.74,677.15 H656.14" stroke="#d6943f" stroke-width="1.5" fill="none"/>
<circle cx="649.94" cy="674.65" r="4.3" fill="#d6943f"/>
<rect x="394.10" y="562.80" width="289.10" height="145.70" fill="none" stroke="#333" stroke-width="1.2"/>
<g stroke="#333" stroke-width="1.2">
<line x1="438.73" y1="708.50" x2="438.73" y2="712.50"/>
<line x1="503.70" y1="708.50" x2="503.70" y2="712.50"/>
<line x1="568.66" y1="708.50" x2="568.66" y2="712.50"/>
<line x1="633.63" y1="708.50" x2="633.63" y2="712.50"/>
<line x1="390.10" y1="708.50" x2="394.10" y2="708.50"/>
<line x1="390.10" y1="666.70" x2="394.10" y2="666.70"/>
<line x1="390.10" y1="624.91" x2="394.10" y2="624.91"/>
<line x1="390.10" y1="583.11" x2="394.10" y2="583.11"/>
</g>
<text x="438.73" y="725.10" font-size="10.5" font-weight="bold" text-anchor="middle" fill="#000" textLength="16.06" lengthAdjust="spacingAndGlyphs">0.2</text>
<text x="503.70" y="725.10" font-size="10.5" font-weight="bold" text-anchor="middle" fill="#000" textLength="16.06" lengthAdjust="spacingAndGlyphs">0.3</text>
<text x="568.66" y="725.10" font-size="10.5" font-weight="bold" text-anchor="middle" fill="#000" textLength="16.06" lengthAdjust="spacingAndGlyphs">0.4</text>
<text x="633.63" y="725.10" font-size="10.5" font-weight="bold" text-anchor="middle" fill="#000" textLength="16.06" lengthAdjust="spacingAndGlyphs">0.5</text>
<text x="384.90" y="712.60" font-size="10.5" font-weight="bold" text-anchor="end" fill="#000" textLength="6.54" lengthAdjust="spacingAndGlyphs">0</text>
<text x="384.90" y="670.80" font-size="10.5" font-weight="bold" text-anchor="end" fill="#000" textLength="6.54" lengthAdjust="spacingAndGlyphs">1</text>
<text x="384.90" y="629.01" font-size="10.5" font-weight="bold" text-anchor="end" fill="#000" textLength="6.54" lengthAdjust="spacingAndGlyphs">2</text>
<text x="384.90" y="587.21" font-size="10.5" font-weight="bold" text-anchor="end" fill="#000" textLength="6.54" lengthAdjust="spacingAndGlyphs">3</text>
<text x="505.10" y="557.20" font-size="13.8" font-weight="bold" text-anchor="start" fill="#000" textLength="67.5" lengthAdjust="spacingAndGlyphs" stroke="#000" stroke-width="0.25">toughness</text>
<text x="538.65" y="739.70" font-size="10" font-weight="bold" text-anchor="middle" fill="#000" textLength="75.9" lengthAdjust="spacingAndGlyphs">relative density</text>
<g transform="translate(370.80,635.70) rotate(-90)">
<text x="0.00" y="0.00" font-size="9.6" font-weight="bold" text-anchor="middle" fill="#000" textLength="82.2" lengthAdjust="spacingAndGlyphs">toughness (kPa)</text>
</g>
<circle cx="204.2" cy="763.3" r="4.3" fill="#0e3d5a"/>
<text x="211.20" y="766.30" font-size="8.5" font-weight="bold" text-anchor="start" fill="#000" textLength="46.7" lengthAdjust="spacingAndGlyphs">resin lattice</text>
<circle cx="308.5" cy="763.4" r="4.3" fill="#5a8a60"/>
<text x="316.00" y="766.30" font-size="8.5" font-weight="bold" text-anchor="start" fill="#000" textLength="47.0" lengthAdjust="spacingAndGlyphs">resin gyroid</text>
<circle cx="413.0" cy="763.3" r="4.3" fill="#c9932e"/>
<text x="419.50" y="766.30" font-size="8.5" font-weight="bold" text-anchor="start" fill="#000" textLength="69.7" lengthAdjust="spacingAndGlyphs">hydrochar gyroid</text>
<text x="-0.60" y="16.60" font-size="22" font-weight="bold" text-anchor="start" fill="#000" textLength="12.4" lengthAdjust="spacingAndGlyphs">a</text>
<text x="535.20" y="16.90" font-size="22" font-weight="bold" text-anchor="start" fill="#000" textLength="14.9" lengthAdjust="spacingAndGlyphs">b</text>
<text x="535.00" y="177.70" font-size="22" font-weight="bold" text-anchor="start" fill="#000" textLength="13.4" lengthAdjust="spacingAndGlyphs">c</text>
<text x="-0.80" y="353.40" font-size="22" font-weight="bold" text-anchor="start" fill="#000" textLength="14.3" lengthAdjust="spacingAndGlyphs">d</text>
<text x="347.60" y="353.90" font-size="22" font-weight="bold" text-anchor="start" fill="#000" textLength="13.7" lengthAdjust="spacingAndGlyphs">e</text>
<text x="-0.40" y="555.50" font-size="22" font-weight="bold" text-anchor="start" fill="#000" textLength="8.6" lengthAdjust="spacingAndGlyphs">f</text>
<text x="347.50" y="554.60" font-size="22" font-weight="bold" text-anchor="start" fill="#000" textLength="13.8" lengthAdjust="spacingAndGlyphs">g</text>
</svg></body></html>
